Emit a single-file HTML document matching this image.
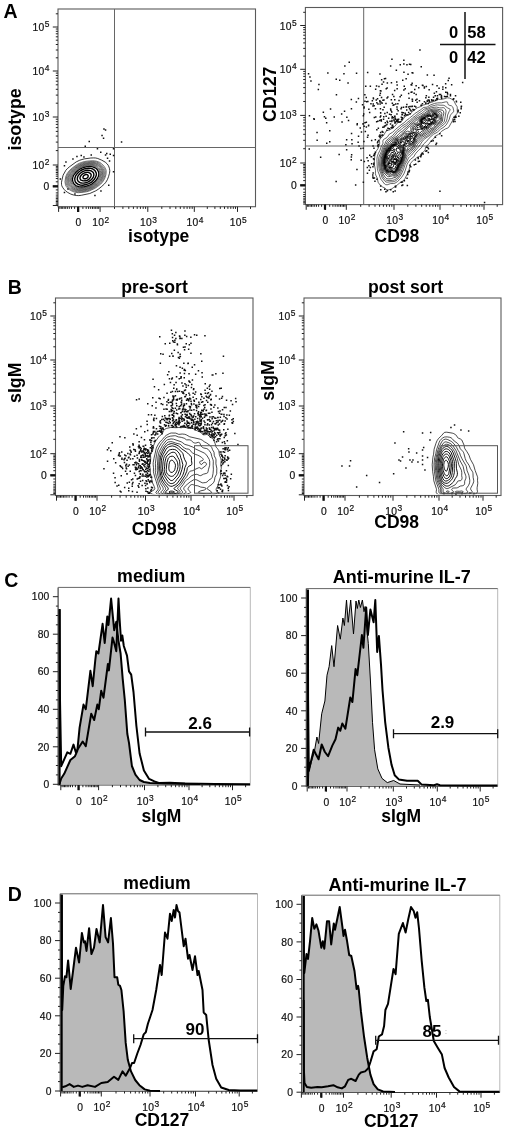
<!DOCTYPE html>
<html><head><meta charset="utf-8"><title>Figure</title>
<style>html,body{margin:0;padding:0;background:#fff}svg{display:block}</style></head>
<body>
<svg width="520" height="1135" viewBox="0 0 520 1135" font-family="'Liberation Sans', sans-serif">
<rect width="520" height="1135" fill="#fff"/>
<text x="3.5" y="17.9" font-size="19.5" font-weight="bold" text-anchor="start" fill="#000">A</text>
<text x="7.8" y="294.2" font-size="19.5" font-weight="bold" text-anchor="start" fill="#000">B</text>
<text x="4.3" y="586.5" font-size="19.5" font-weight="bold" text-anchor="start" fill="#000">C</text>
<text x="7.8" y="901" font-size="19.5" font-weight="bold" text-anchor="start" fill="#000">D</text>
<rect x="58" y="9" width="197.5" height="197.7" fill="none" stroke="#5a5a5a" stroke-width="1.1"/>
<path d="M78.6 206.7v5.2M100.1 206.7v5.2M147.8 206.7v5.2M194.3 206.7v5.2M237.5 206.7v5.2M114.5 206.7v2.2M122.9 206.7v2.2M128.8 206.7v2.2M133.4 206.7v2.2M137.2 206.7v2.2M140.4 206.7v2.2M143.2 206.7v2.2M145.6 206.7v2.2M161.8 206.7v2.2M170 206.7v2.2M175.8 206.7v2.2M180.3 206.7v2.2M184 206.7v2.2M187.1 206.7v2.2M189.8 206.7v2.2M192.2 206.7v2.2M207.3 206.7v2.2M214.9 206.7v2.2M220.3 206.7v2.2M224.5 206.7v2.2M227.9 206.7v2.2M230.8 206.7v2.2M233.3 206.7v2.2M235.5 206.7v2.2M250.5 206.7v2.2M82.9 206.7v2.2M74.6 206.7v2.2M86.2 206.7v2.2M71.5 206.7v2.2M88.6 206.7v2.2M69.3 206.7v2.2M90.7 206.7v2.2M67.4 206.7v2.2M92.5 206.7v2.2M65.7 206.7v2.2M94.1 206.7v2.2M64.2 206.7v2.2M95.7 206.7v2.2M62.7 206.7v2.2M97.2 206.7v2.2M61.3 206.7v2.2M98.7 206.7v2.2M59.9 206.7v2.2M58.6 206.7v5.2M58 186h-5.2M58 165h-5.2M58 117h-5.2M58 71h-5.2M58 27h-5.2M58 150.6h-2.2M58 142.1h-2.2M58 136.1h-2.2M58 131.4h-2.2M58 127.6h-2.2M58 124.4h-2.2M58 121.7h-2.2M58 119.2h-2.2M58 103.2h-2.2M58 95.1h-2.2M58 89.3h-2.2M58 84.8h-2.2M58 81.2h-2.2M58 78.1h-2.2M58 75.5h-2.2M58 73.1h-2.2M58 57.8h-2.2M58 50h-2.2M58 44.5h-2.2M58 40.2h-2.2M58 36.8h-2.2M58 33.8h-2.2M58 31.3h-2.2M58 29h-2.2M58 13.8h-2.2M58 181.8h-2.2M58 189.9h-2.2M58 178.5h-2.2M58 192.9h-2.2M58 176.2h-2.2M58 195.1h-2.2M58 174.2h-2.2M58 197h-2.2M58 172.5h-2.2M58 198.6h-2.2M58 170.8h-2.2M58 200.1h-2.2M58 169.3h-2.2M58 201.5h-2.2M58 167.8h-2.2M58 202.9h-2.2M58 166.4h-2.2M58 204.2h-2.2M58 205.5h-5.2" stroke="#222" stroke-width="1" fill="none"/>
<path d="M78.1 206.7v5.2M58 186.3h-5.2" stroke="#111" stroke-width="2.2" fill="none"/>
<text x="78.6" y="226.4" font-size="10.3" letter-spacing="0.25" text-anchor="middle" fill="#111" stroke="#111" stroke-width="0.2">0</text>
<text x="100.9" y="226.4" font-size="10.3" letter-spacing="0.25" text-anchor="middle" fill="#111" stroke="#111" stroke-width="0.2">10<tspan dy="-3.9" dx="0.3" font-size="8.4">2</tspan></text>
<text x="148.6" y="226.4" font-size="10.3" letter-spacing="0.25" text-anchor="middle" fill="#111" stroke="#111" stroke-width="0.2">10<tspan dy="-3.9" dx="0.3" font-size="8.4">3</tspan></text>
<text x="195.1" y="226.4" font-size="10.3" letter-spacing="0.25" text-anchor="middle" fill="#111" stroke="#111" stroke-width="0.2">10<tspan dy="-3.9" dx="0.3" font-size="8.4">4</tspan></text>
<text x="238.3" y="226.4" font-size="10.3" letter-spacing="0.25" text-anchor="middle" fill="#111" stroke="#111" stroke-width="0.2">10<tspan dy="-3.9" dx="0.3" font-size="8.4">5</tspan></text>
<text x="49.6" y="189.8" font-size="10.3" letter-spacing="0.25" text-anchor="end" fill="#111" stroke="#111" stroke-width="0.2">0</text>
<text x="49.6" y="169" font-size="10.3" letter-spacing="0.25" text-anchor="end" fill="#111" stroke="#111" stroke-width="0.2">10<tspan dy="-3.9" dx="0.3" font-size="8.4">2</tspan></text>
<text x="49.6" y="121" font-size="10.3" letter-spacing="0.25" text-anchor="end" fill="#111" stroke="#111" stroke-width="0.2">10<tspan dy="-3.9" dx="0.3" font-size="8.4">3</tspan></text>
<text x="49.6" y="75" font-size="10.3" letter-spacing="0.25" text-anchor="end" fill="#111" stroke="#111" stroke-width="0.2">10<tspan dy="-3.9" dx="0.3" font-size="8.4">4</tspan></text>
<text x="49.6" y="31" font-size="10.3" letter-spacing="0.25" text-anchor="end" fill="#111" stroke="#111" stroke-width="0.2">10<tspan dy="-3.9" dx="0.3" font-size="8.4">5</tspan></text>
<text x="158.7" y="241.6" font-size="17.5" font-weight="bold" text-anchor="middle" fill="#000">isotype</text>
<text x="21" y="119.4" font-size="17.8" font-weight="bold" text-anchor="middle" fill="#000" transform="rotate(-90 21 119.4)">isotype</text>
<path d="M114.5 9V206.7M58 147.5H255.5" stroke="#666" stroke-width="1" fill="none"/>
<path d="M85.8 178.8L84.2 178.8L83.3 178.2L83 177.8L83 176.8L83.6 175.8L84.8 174.9L86.2 174.5L87.2 174.6L88 175.2L88.2 175.8L88.1 176.8L87.2 178L85.8 178.8Z" fill="none" stroke="#000" stroke-width="1.40" stroke-linejoin="round"/>
<path d="M85.8 180.8L83.2 180.9L81.2 180.2L80.6 179.8L80.1 178.8L80 177.8L80.2 176.8L80.8 175.8L81.8 174.6L82.8 173.8L84.2 173L86.8 172.4L88.2 172.4L89.4 172.8L90.2 173.3L91 174.2L91.2 175.2L90.8 176.8L89.8 178.2L88.8 179.3L87.2 180.3L85.8 180.8Z" fill="none" stroke="#000" stroke-width="1.40" stroke-linejoin="round"/>
<path d="M85.8 182.8L83.8 183.1L81.8 183L80.2 182.7L78.8 181.9L77.8 180.8L77.3 179.2L77.4 177.8L77.9 176.2L78.9 174.8L80.3 173.2L81.8 172.1L83.8 171.1L85.8 170.5L87.8 170.3L89.8 170.5L91.2 170.9L92.8 172L93.6 173.2L93.9 174.8L93.4 176.8L92.2 178.8L90.2 180.7L88.2 181.9L85.8 182.8Z" fill="none" stroke="#000" stroke-width="1.40" stroke-linejoin="round"/>
<path d="M85.2 184.8L82.8 185.2L80.2 185L78.2 184.4L76.4 183.2L75.3 181.8L74.8 179.8L74.8 178.2L75.5 176.2L76.7 174.2L78.8 172L80.8 170.5L82.8 169.5L85.2 168.7L88.2 168.3L90.8 168.4L92.8 169L94 169.8L95.1 170.8L96.2 172.8L96.4 174.8L95.6 177.2L94 179.8L91.2 182.4L88.8 183.7L85.2 184.8Z" fill="none" stroke="#000" stroke-width="1.40" stroke-linejoin="round"/>
<path d="M84.2 186.8L81.2 187L78.8 186.7L76.2 185.8L74.2 184.2L73 182.2L72.5 179.8L72.8 177.2L73.7 175.2L75.5 172.8L78.2 170.2L80.4 168.8L83.2 167.5L86.8 166.7L90.2 166.4L92.8 166.8L95.1 167.8L96.5 168.8L97.4 169.8L98 170.8L98.6 172.2L98.8 173.8L98.7 175.2L98.2 176.8L97.5 178.2L96.5 179.8L95.2 181.2L91.8 184.1L88.8 185.5L84.2 186.8Z" fill="none" stroke="#000" stroke-width="1.30" stroke-linejoin="round"/>
<path d="M83.2 187.8L80.2 187.8L77.2 187.2L74.8 186.1L72.8 184.2L71.7 182.2L71.4 179.8L71.7 177.2L72.8 174.8L74.8 172.2L77.8 169.5L80.2 167.9L83.2 166.7L86.8 165.9L90.2 165.6L93.8 166.1L96.2 167.1L97.6 168.2L98.5 169.2L99.3 170.8L99.8 172.2L99.9 173.8L99.8 175.2L99.2 177.2L98.4 178.8L97.3 180.2L95.9 181.8L92.1 184.8L90.2 185.7L87.2 186.8L83.2 187.8Z" fill="none" stroke="#383838" stroke-width="0.70" stroke-linejoin="round"/>
<path d="M83.8 188.3L80.2 188.5L77.2 187.9L74.2 186.6L72.2 184.9L71 182.8L70.6 180.2L70.9 177.2L72 174.8L73.9 172.2L77.2 169.2L79.8 167.5L83.2 166.1L87.2 165.2L90.8 165L94.2 165.5L96.8 166.5L98.2 167.7L99.2 169L100.2 170.8L100.7 172.2L100.7 173.8L100.6 175.2L100 177.2L99.2 178.8L98.2 180.2L96.8 181.8L92.8 185L90.8 186.1L88.2 187.1L85.8 187.9L83.8 188.3Z" fill="none" stroke="#383838" stroke-width="0.70" stroke-linejoin="round"/>
<path d="M84.8 188.8L80.8 189.1L77.8 188.8L75.8 188.2L74.2 187.6L71.8 185.8L70.4 183.8L69.7 181.2L69.9 177.8L70.8 175.2L72.9 172.2L76.1 169.2L78.8 167.4L81.8 166L85.8 164.8L89.8 164.3L93.8 164.6L96.8 165.6L98.2 166.6L99.8 168.2L101 170.2L101.5 171.8L101.6 173.2L101.4 175.2L100.8 177.2L100.1 178.8L99.2 180.2L97.9 181.8L93.2 185.4L91.2 186.5L88.8 187.6L84.8 188.8Z" fill="none" stroke="#383838" stroke-width="0.70" stroke-linejoin="round"/>
<path d="M81.8 189.8L78.2 189.7L75.2 188.9L72.2 187.3L70.1 185.2L69.5 184.2L68.9 182.8L68.7 179.8L69 177.8L69.4 176.2L70.7 173.8L73.2 170.9L77.2 167.5L79.8 166.1L83.8 164.6L87.8 163.8L91.8 163.6L95.8 164.3L98.2 165.4L99.8 166.8L101.2 168.8L102.2 170.8L102.5 172.2L102.5 174.2L102.1 176.2L101.3 178.2L100.2 180.2L98.9 181.8L97.3 183.2L94.2 185.6L92.2 186.8L86.8 189L84.8 189.4L81.8 189.8Z" fill="none" stroke="#383838" stroke-width="0.70" stroke-linejoin="round"/>
<path d="M82.8 190.3L78.8 190.4L75.2 189.7L73.2 188.8L71.8 187.9L69.4 185.8L68.3 183.8L68 182.2L67.9 180.8L68.3 177.2L69.6 174.2L71.9 171.2L75.8 167.9L78.8 166L82.2 164.5L86.2 163.5L90.8 163L95.2 163.4L96.8 163.9L98.2 164.6L99.8 165.8L101.1 167.2L102.4 169.2L103.2 171.2L103.3 173.2L103.1 175.2L102.5 177.2L101.3 179.8L100.2 181.2L98.8 182.8L95.2 185.6L93.2 186.9L90.8 188.1L87.2 189.4L82.8 190.3Z" fill="none" stroke="#383838" stroke-width="0.70" stroke-linejoin="round"/>
<path d="M83.8 190.8L79.2 191.1L75.8 190.7L72.2 189.2L70.7 188.2L69.2 187L67.7 184.8L67.2 183.2L67 181.8L67.3 177.8L68.4 174.8L69.3 173.2L70.8 171.4L74.2 168.3L78.2 165.5L81.8 164L85.8 162.9L90.8 162.3L95.2 162.6L98.2 163.6L99.9 164.8L101.4 166.2L103.1 168.8L104 170.8L104.3 172.8L104 174.8L103.5 176.8L102.4 179.2L101.2 181.2L99.8 182.8L97.8 184.5L94.2 187L92.2 188.1L88.2 189.8L86.2 190.4L83.8 190.8Z" fill="none" stroke="#383838" stroke-width="0.70" stroke-linejoin="round"/>
<path d="M81.2 191.8L77.2 191.8L73.8 190.9L71.8 190L69.8 188.8L68.2 187.4L67.3 186.2L66.3 183.8L66 182.2L66.1 180.2L66.6 176.8L67.4 174.8L68.3 173.2L70.8 170.2L75.2 166.6L78.8 164.4L82.8 162.8L87.8 161.8L92.8 161.5L94.8 161.7L96.8 162.1L99.8 163.5L101.3 164.8L103.4 167.2L104.6 169.2L105.2 171.2L105.2 173.2L104.8 175.8L103.9 178.2L102.5 180.8L101.4 182.2L99.8 183.9L96.2 186.6L93.8 188.1L89.8 190L87.8 190.7L84.8 191.4L81.2 191.8Z" fill="none" stroke="#383838" stroke-width="0.70" stroke-linejoin="round"/>
<path d="M83.2 192.3L78.2 192.7L74.8 192.2L72.8 191.5L70.2 190.2L68.7 189.2L67.2 187.8L66.1 186.2L65.5 184.8L65 181.8L65.6 177.2L66.1 175.8L67 173.8L69.2 170.8L72.2 168L77.2 164.4L79.2 163.3L81.8 162.3L84.2 161.6L87.2 161.1L92.8 160.7L96.2 161.1L99.8 162.4L101.8 163.9L104 166.2L105.3 168.2L106.1 170.2L106.2 172.2L105.9 174.8L105 177.8L103.8 180.2L102.4 182.2L100.8 184L97.8 186.4L94.8 188.4L88.8 191.2L86.8 191.7L83.2 192.3Z" fill="none" stroke="#383838" stroke-width="0.70" stroke-linejoin="round"/>
<path d="M81.2 195.3L78.8 195.6L76.2 195.5L73.2 194.9L70.8 194.1L67.8 192.5L65.9 191.2L63.9 189.2L62.5 187.2L61.8 185.8L61.5 184.2L61.5 182.2L62 179.8L63.1 175.2L65.9 170.2L67.2 168.8L69.2 167L76.2 161.9L79.8 160.2L84.2 158.9L90.8 158L93.8 157.9L95.8 158L97.8 158.5L101.8 160.2L105.2 162.1L107.1 163.8L108.5 165.8L109.4 168.2L109.8 170.8L109.5 173.2L108.5 176.8L107.3 179.8L105.9 182.2L104.2 184.2L101.2 186.9L98.2 189.3L95.8 190.8L89.8 193.5L81.2 195.3Z" fill="none" stroke="#222" stroke-width="0.90" stroke-linejoin="round"/>
<path d="M72.2 158.2h1.5v1.5h-1.5zM63.7 164.9h1.5v1.5h-1.5zM59.6 178.3h1.5v1.5h-1.5zM63.7 191.8h1.5v1.5h-1.5zM80.5 154.8h1.5v1.5h-1.5zM83.2 156.2h1.5v1.5h-1.5zM90.5 154.2h1.5v1.5h-1.5zM84.5 145.4h1.5v1.5h-1.5zM88.5 140.7h1.5v1.5h-1.5zM96.7 148.1h1.5v1.5h-1.5zM100 151.4h1.5v1.5h-1.5zM101.3 134.7h1.5v1.5h-1.5zM102.8 137.6h1.5v1.5h-1.5zM104.8 154.2h1.5v1.5h-1.5zM106 152.8h1.5v1.5h-1.5zM109.5 153.4h1.5v1.5h-1.5zM106.8 157.6h1.5v1.5h-1.5zM108.8 160.2h1.5v1.5h-1.5zM112.8 154.8h1.5v1.5h-1.5zM112.8 148.1h1.5v1.5h-1.5zM112.8 170.9h1.5v1.5h-1.5zM108 184.4h1.5v1.5h-1.5zM120.8 141.3h1.5v1.5h-1.5zM104.8 129.2h1.5v1.5h-1.5zM103.2 128.2h1.5v1.5h-1.5zM67.2 188.2h1.5v1.5h-1.5zM74.2 193.2h1.5v1.5h-1.5zM94.2 194.8h1.5v1.5h-1.5zM100.2 190.2h1.5v1.5h-1.5zM65.2 161.2h1.5v1.5h-1.5zM76.2 155.8h1.5v1.5h-1.5z" fill="#111"/>
<rect x="305.4" y="7.5" width="197.2" height="197.1" fill="none" stroke="#5a5a5a" stroke-width="1.1"/>
<path d="M325.5 204.6v5.2M346.3 204.6v5.2M394 204.6v5.2M440 204.6v5.2M484 204.6v5.2M360.7 204.6v2.2M369.1 204.6v2.2M375 204.6v2.2M379.6 204.6v2.2M383.4 204.6v2.2M386.6 204.6v2.2M389.4 204.6v2.2M391.8 204.6v2.2M407.8 204.6v2.2M415.9 204.6v2.2M421.7 204.6v2.2M426.2 204.6v2.2M429.8 204.6v2.2M432.9 204.6v2.2M435.5 204.6v2.2M437.9 204.6v2.2M453.2 204.6v2.2M461 204.6v2.2M466.5 204.6v2.2M470.8 204.6v2.2M474.2 204.6v2.2M477.2 204.6v2.2M479.7 204.6v2.2M482 204.6v2.2M497.2 204.6v2.2M329.7 204.6v2.2M321.6 204.6v2.2M332.9 204.6v2.2M318.6 204.6v2.2M335.2 204.6v2.2M316.5 204.6v2.2M337.2 204.6v2.2M314.7 204.6v2.2M338.9 204.6v2.2M313 204.6v2.2M340.5 204.6v2.2M311.5 204.6v2.2M342.1 204.6v2.2M310.1 204.6v2.2M343.5 204.6v2.2M308.7 204.6v2.2M344.9 204.6v2.2M307.4 204.6v2.2M306.2 204.6v5.2M305.4 185h-5.2M305.4 163h-5.2M305.4 115.4h-5.2M305.4 69.3h-5.2M305.4 25.5h-5.2M305.4 148.7h-2.2M305.4 140.3h-2.2M305.4 134.3h-2.2M305.4 129.7h-2.2M305.4 126h-2.2M305.4 122.8h-2.2M305.4 120h-2.2M305.4 117.6h-2.2M305.4 101.5h-2.2M305.4 93.4h-2.2M305.4 87.6h-2.2M305.4 83.2h-2.2M305.4 79.5h-2.2M305.4 76.4h-2.2M305.4 73.8h-2.2M305.4 71.4h-2.2M305.4 56.1h-2.2M305.4 48.4h-2.2M305.4 42.9h-2.2M305.4 38.7h-2.2M305.4 35.2h-2.2M305.4 32.3h-2.2M305.4 29.7h-2.2M305.4 27.5h-2.2M305.4 12.3h-2.2M305.4 180.6h-2.2M305.4 189.1h-2.2M305.4 177.2h-2.2M305.4 192.3h-2.2M305.4 174.7h-2.2M305.4 194.6h-2.2M305.4 172.7h-2.2M305.4 196.5h-2.2M305.4 170.8h-2.2M305.4 198.2h-2.2M305.4 169.1h-2.2M305.4 199.8h-2.2M305.4 167.5h-2.2M305.4 201.3h-2.2M305.4 165.9h-2.2M305.4 202.7h-2.2M305.4 164.5h-2.2M305.4 204.1h-2.2" stroke="#222" stroke-width="1" fill="none"/>
<path d="M325 204.6v5.2M305.4 185.3h-5.2" stroke="#111" stroke-width="2.2" fill="none"/>
<text x="325.5" y="224.3" font-size="10.3" letter-spacing="0.25" text-anchor="middle" fill="#111" stroke="#111" stroke-width="0.2">0</text>
<text x="347.1" y="224.3" font-size="10.3" letter-spacing="0.25" text-anchor="middle" fill="#111" stroke="#111" stroke-width="0.2">10<tspan dy="-3.9" dx="0.3" font-size="8.4">2</tspan></text>
<text x="394.8" y="224.3" font-size="10.3" letter-spacing="0.25" text-anchor="middle" fill="#111" stroke="#111" stroke-width="0.2">10<tspan dy="-3.9" dx="0.3" font-size="8.4">3</tspan></text>
<text x="440.8" y="224.3" font-size="10.3" letter-spacing="0.25" text-anchor="middle" fill="#111" stroke="#111" stroke-width="0.2">10<tspan dy="-3.9" dx="0.3" font-size="8.4">4</tspan></text>
<text x="484.8" y="224.3" font-size="10.3" letter-spacing="0.25" text-anchor="middle" fill="#111" stroke="#111" stroke-width="0.2">10<tspan dy="-3.9" dx="0.3" font-size="8.4">5</tspan></text>
<text x="297" y="188.8" font-size="10.3" letter-spacing="0.25" text-anchor="end" fill="#111" stroke="#111" stroke-width="0.2">0</text>
<text x="297" y="167" font-size="10.3" letter-spacing="0.25" text-anchor="end" fill="#111" stroke="#111" stroke-width="0.2">10<tspan dy="-3.9" dx="0.3" font-size="8.4">2</tspan></text>
<text x="297" y="119.4" font-size="10.3" letter-spacing="0.25" text-anchor="end" fill="#111" stroke="#111" stroke-width="0.2">10<tspan dy="-3.9" dx="0.3" font-size="8.4">3</tspan></text>
<text x="297" y="73.3" font-size="10.3" letter-spacing="0.25" text-anchor="end" fill="#111" stroke="#111" stroke-width="0.2">10<tspan dy="-3.9" dx="0.3" font-size="8.4">4</tspan></text>
<text x="297" y="29.5" font-size="10.3" letter-spacing="0.25" text-anchor="end" fill="#111" stroke="#111" stroke-width="0.2">10<tspan dy="-3.9" dx="0.3" font-size="8.4">5</tspan></text>
<text x="396.9" y="241.9" font-size="17.5" font-weight="bold" text-anchor="middle" fill="#000">CD98</text>
<text x="275.8" y="94.2" font-size="17.8" font-weight="bold" text-anchor="middle" fill="#000" transform="rotate(-90 275.8 94.2)">CD127</text>
<path d="M363.7 7.5V204.6M305.4 146H502.6" stroke="#666" stroke-width="1" fill="none"/>
<path d="M395.6 162.3L395.1 162.4L394.6 162.2L393.6 161.2L393.2 160.8L393.2 160.2L393.7 159.8L395.1 159.4L395.9 159.8L396.3 160.8L396 161.8L395.6 162.3Z" fill="none" stroke="#000" stroke-width="1.00" stroke-linejoin="round"/>
<path d="M395.6 162.6L395.1 162.7L394.6 162.5L393.1 161.4L392.1 161.3L391.1 161.5L391 161.2L391.6 158.2L392.6 155.5L393.1 155.1L393.6 155.5L393.7 156.2L392.5 157.8L392 158.8L392.6 159.2L395.1 159.1L396.1 159.5L396.5 160.2L396.5 160.8L396.3 161.8L395.6 162.6Z" fill="none" stroke="#000" stroke-width="1.00" stroke-linejoin="round"/>
<path d="M390.1 163.9L389.6 164L389.4 162.8L390.3 160.8L390.3 159.2L389.8 158.2L388.9 157.2L389 156.8L389.6 156.7L390.6 157.1L391.1 157L391.8 156.2L392.4 154.8L392.6 154.5L393.1 154.5L393.6 154.8L394.3 155.8L394.2 156.2L393.5 157.8L393.6 158.2L394.1 158.6L395.6 158.8L396.4 159.2L396.8 160.2L396.7 161.2L396.3 162.2L395.6 162.9L394.6 162.8L393.1 161.8L392.1 161.8L391.1 162.4L390.1 163.9Z" fill="none" stroke="#000" stroke-width="1.00" stroke-linejoin="round"/>
<path d="M391.1 165.9L390.6 166L389.6 166L388.9 165.8L388.6 165.2L388.4 162.8L389.3 160.2L389 159.2L387.9 157.8L387.6 156.8L387.6 156.2L388.1 155.4L388.6 155.2L390.7 155.2L390.9 154.8L391 152.8L391.6 152.3L393.1 152.6L394 153.2L395.4 155.8L395.4 157.2L395.7 157.8L397.1 158.8L397.5 159.2L397.6 160.2L397 162.2L396.1 163.4L395.1 163.6L393.1 162.6L392.1 162.8L391.4 163.8L391.4 165.2L391.1 165.9Z" fill="none" stroke="#000" stroke-width="1.00" stroke-linejoin="round"/>
<path d="M399.1 152.4L397.6 152L396.5 151.2L396.3 150.8L396.3 149.2L396.6 148.1L397.1 148L398.1 148.2L399.1 148.7L399.8 149.2L400.2 150.2L400.3 151.2L400.1 151.8L399.6 152.2L399.1 152.4ZM392.1 167.3L388.1 166.9L387.9 166.8L387.4 165.8L387 162.2L387.1 161.2L387.8 160.2L387.8 159.8L386.8 157.2L386.9 155.2L387.5 154.2L388.7 153.2L390.1 150.9L391.1 150.2L392.1 150.4L394.9 151.8L395.3 152.2L395.6 153.8L396.7 155.2L397 157.2L398.6 158.6L398.9 159.2L398.4 161.8L396.6 164.1L396.1 164.4L395.1 164.6L393.6 163.8L393 163.8L392.8 164.2L393.5 165.2L393.7 166.2L393.1 167L392.1 167.3Z" fill="none" stroke="#000" stroke-width="1.00" stroke-linejoin="round"/>
<path d="M425.1 122.3L424.1 122.7L423.4 122.2L422.7 121.2L422.6 120.8L422.9 120.2L423.6 119.8L424.6 120L425.4 121.2L425.4 121.8L425.1 122.3ZM394.1 169.4L392.5 168.2L390.1 167.6L389.1 167.6L387.6 168.5L387.2 168.2L386.5 165.8L385.7 163.8L385.6 163.2L386.4 159.2L386.2 156.2L386.3 155.2L386.6 154.2L390.1 149.8L391.1 149.1L392.6 148.5L392.9 148.2L393.5 146.8L393.9 146.2L394.6 145.9L395.6 145.8L396.6 146L398.2 147.2L400.1 148.2L400.6 148.7L401 149.8L401.1 151.2L400.6 152.9L399.1 154.2L397.7 156.2L397.8 156.8L398.1 157.2L399.3 157.8L400 158.8L400.1 159.8L399.5 161.8L398.9 162.8L396.1 165.8L394.6 169.1L394.1 169.4ZM394.8 150.2L395 149.8L394.6 149.1L394.1 149L393.4 149.2L393.4 149.8L394 150.2L394.8 150.2ZM397.7 153.8L397.7 153.2L396.9 153.2L397.1 153.7L397.7 153.8Z" fill="none" stroke="#000" stroke-width="1.00" stroke-linejoin="round"/>
<path d="M432.1 120.3L431.6 119.9L431.3 118.8L431.6 118.4L432.1 118.7L432.6 119.3L432.6 120L432.1 120.3ZM424.6 123.8L424.1 123.9L423.1 123.3L422 121.2L421.9 120.2L422.1 119.8L423.1 119.1L424.1 118.9L425.1 119L425.6 119.4L426.6 120.8L427.1 121.1L429.1 120.9L430.9 121.2L431 121.8L430.9 122.2L430.1 123.2L429.6 123.5L428.6 123.4L427.1 122.8L424.6 123.8ZM422.6 126.8L422.1 127L421.5 126.8L421.4 126.2L421.6 125.7L422.1 125.5L422.6 125.5L423 125.8L423 126.2L422.6 126.8ZM409.1 140.5L408.1 140.5L407 139.8L406.7 138.8L407 138.2L408.1 137.9L409.1 138.2L409.6 139L409.8 139.8L409.5 140.2L409.1 140.5ZM394.1 171.3L393.6 171.3L393.1 171L391.9 169.2L390.4 168.2L389.6 168.2L388.6 169.7L388.1 169.9L387.1 169.6L386.3 168.8L385.8 166.2L384.7 163.8L385.1 161.2L385.6 155.8L386.2 153.8L388.9 149.8L392.1 147.4L392.8 146.2L393.4 145.8L397.6 144.4L398.1 144.8L398.8 146.2L399.1 146.6L401.1 147.5L402 148.2L402.2 148.8L402.2 149.8L401.5 153.8L399.8 156.2L400.7 157.8L401 158.8L401 159.8L400.1 162.2L398 164.8L395.4 170.2L394.6 171.1L394.1 171.3Z" fill="none" stroke="#000" stroke-width="1.00" stroke-linejoin="round"/>
<path d="M435.6 117L434.6 117L434 116.8L433.7 116.2L433.8 115.8L434.4 114.8L435.1 114.7L435.9 115.2L436.2 116.2L436 116.8L435.6 117ZM422.6 127.8L421.4 127.8L420.8 127.2L420.5 126.8L420.5 126.2L420.9 125.2L422.3 123.8L422.2 122.8L421.5 120.8L421.7 119.8L422.1 119.2L423.6 118.5L425.6 118.4L426.3 118.8L427 119.8L427.6 120.1L429.6 120.4L430.4 120.2L430.7 119.8L430.1 118.8L429.1 118.4L427.5 118.2L427 117.8L427 117.2L427.5 116.8L429.1 116.1L430.1 116.3L432.6 118L433.6 119.8L433.5 120.8L433.1 121.2L432.1 121.7L430.6 123.5L429.6 124L428.6 124L427.1 123.6L426.6 123.8L426 124.2L425.5 125.8L422.6 127.8ZM414.6 134.9L414.4 134.8L414.3 134.2L414.6 134.1L415.1 134.2L415 134.8L414.6 134.9ZM409.1 141.3L407.6 140.9L406.6 140.2L406.1 139.8L405.9 138.8L406.1 138L406.6 137.5L408.1 137.1L409.6 136.2L409.9 137.8L410.5 139.2L410.6 140.2L410.1 140.9L409.1 141.3ZM402.1 145.4L401.6 145.6L401.1 145.5L400.7 144.8L400.7 143.8L401.6 142L402.1 141.7L403.1 141.7L404.1 142.2L404.5 143.2L403.8 144.2L402.1 145.4ZM394.1 171.8L393.1 171.6L391.6 170.1L390.6 169.4L390.1 169.3L389.6 170.2L388.6 170.7L387.1 170.4L386.1 169.5L385.8 168.8L385.3 166.2L384.5 164.8L384.3 163.8L384.7 160.8L384.7 158.8L385.6 154.2L388.2 149.8L391.5 147.2L392.7 145.8L395.6 144.6L397.1 143.3L397.6 143.1L398.1 143.3L399.1 144.2L399.9 145.8L401.1 146.3L402.6 147.8L403.1 148.8L403.1 149.4L402.5 151.8L402 156.2L401.5 157.8L401.5 159.8L401.1 161.2L400.3 162.8L398.6 164.8L395.7 170.8L395.1 171.3L394.1 171.8Z" fill="none" stroke="#000" stroke-width="1.00" stroke-linejoin="round"/>
<path d="M423.1 128.3L422.1 128.6L421.1 128.3L420.3 127.8L419.8 127.2L419.7 126.8L419.9 125.8L421.7 123.2L421.1 120.2L421.6 119.2L422.6 118.5L425.5 117.8L427.1 116.3L428.1 115.8L429.6 115.7L431.6 116.6L432.6 116.8L433.1 116L433.6 114.5L434.1 114L435.1 114.1L436.1 114.7L436.5 115.2L436.7 116.2L436.7 116.8L436.3 117.2L435.6 117.5L433.6 117.8L433.6 118.2L434.5 120.8L434.3 121.8L432.1 122.6L430.1 124.3L427.5 124.8L427.5 125.8L427.1 126.4L425.1 126.9L423.1 128.3ZM429.8 119.8L429.6 119.2L429.1 119L428.5 119.2L428.8 119.8L429.8 119.8ZM417.6 127.8L417.4 127.2L417.6 127.1L418.1 127.2L418 127.8L417.6 127.8ZM414.1 136.3L412 134.2L412.5 133.8L413.6 133.2L414.6 133L415.6 133.2L416.1 133.8L416.1 134.8L415.4 135.8L414.1 136.3ZM395.1 171.8L394.6 172.1L393.6 172.2L392.7 171.8L391.1 170.6L390.6 170.6L389.1 171.3L388.1 171.3L386.8 170.8L385.6 169.6L385.3 168.8L385.1 166.8L384.2 164.8L383.9 163.2L384.2 161.2L384.3 158.8L385.4 154.2L388 149.2L390.2 147.8L391.9 145.8L395.5 144.2L396 143.8L396.6 142.2L397.1 141.7L397.6 141.7L399.1 143.2L399.6 143.4L399.9 143.2L400.1 143.1L401.5 140.8L402.1 140.1L403.1 139.7L404.6 139.8L406.1 137L408.1 136.2L409.6 134.8L410.8 134.8L410.6 137.2L410.7 137.8L411.1 138.6L411.6 138.6L413.1 137.5L413.5 137.8L413.6 138.8L413.1 140.5L412.6 141.1L409.6 142.4L408.6 142.1L406.1 140.7L405.6 140.5L405.1 140.7L405.4 142.8L405.3 143.8L405 144.2L403 145.8L402.7 146.2L402.8 146.8L403.6 148.2L403.7 149.2L402.9 151.8L402.7 155.8L401.9 158.2L401.6 160.8L400.6 162.7L398.7 165.2L396.5 170.2L395.1 171.8Z" fill="none" stroke="#000" stroke-width="1.00" stroke-linejoin="round"/>
<path d="M422.6 129.4L420.1 129L419.1 129.5L416.1 129L415.1 129.6L414.6 129.2L414.8 128.8L415.6 127.8L416.3 126.2L417 125.8L419.1 125.1L420.9 123.2L421.1 122.2L420.7 120.8L420.8 119.8L421.1 119.2L422.1 118.4L425.1 117.3L426.6 116L428.6 115.1L429.6 115.2L431.6 116L432.1 116.1L432.6 115.7L433.1 113.8L433.6 113.3L435.1 113.6L436.4 114.2L437 115.2L437.2 116.8L436.6 117.7L434.9 118.2L434.5 118.8L435.3 120.8L435.3 121.8L435.1 122.2L434.5 122.8L432.1 123.2L430.6 124.6L429.1 125.2L428.6 125.7L427.6 127.3L427.1 127.5L425.1 127.7L423.6 128.9L422.6 129.4ZM394.6 172.5L393.6 172.6L391.1 171.3L389.1 171.9L387.6 171.8L386 170.8L385.1 169.8L384.9 169.2L384.7 166.8L383.8 164.8L383.6 163.8L383.9 158.8L385.1 154.2L386.4 151.8L387.1 149.7L387.9 148.8L389.7 147.8L391.1 145.7L391.9 145.2L394.7 144.2L395.2 143.8L395.8 141.8L396.6 140.8L397.1 140.6L398 140.8L399.1 141.9L399.6 142.1L400.1 141.6L400.9 140.2L401.6 139.4L402.6 138.8L404.1 138.6L404.6 138.3L405.6 136.5L406.1 136L407.6 135.7L409.1 134.4L411.1 133.7L413.1 132.6L414.6 132.3L415.6 132.3L416.8 133.2L416.9 133.8L416.8 134.8L416.3 135.8L414.6 137.2L414 140.8L413.4 141.8L411.6 143.3L410.1 143.9L408.6 143.8L407.1 142.7L406.9 142.8L406.6 143L406 144.8L405.4 145.2L404.1 145.8L403.7 146.2L403.7 146.8L404.3 149.2L403.4 151.8L403.1 155.8L402.3 158.2L401.7 161.2L401 162.8L399.2 165.2L397 170.2L396.1 171.4L394.6 172.5ZM412.4 136.8L412.6 136.2L412.2 135.8L411.6 135.9L411.5 136.2L411.6 137L412.4 136.8Z" fill="none" stroke="#000" stroke-width="1.00" stroke-linejoin="round"/>
<path d="M395.1 172.9L394.1 173.2L391.6 172.1L391.1 172L389.6 172.7L388.1 172.6L386.1 171.6L384.4 169.8L384.2 166.8L383.4 164.8L383.2 163.8L383.5 158.8L384.8 154.2L386 151.8L387.1 148.8L387.6 148.2L389.5 147.2L390.9 145.2L393.6 144.2L394.2 143.8L394.6 141.9L396.2 140.2L397.1 139.8L399.1 140.3L399.6 140.2L402.1 138.1L404.1 137.2L405 135.2L405.6 134.8L407.6 134.7L409.1 133.8L411.1 133.1L412.8 131.8L413.3 131.2L413.4 130.8L413.4 128.2L414.6 126L415.6 125.2L418.6 124.4L419.6 123.7L420.3 122.8L420.5 122.2L420.2 120.8L420.3 119.8L420.6 119.2L421.6 118.3L422.6 117.7L424.6 117L426.6 115.5L428.6 114.5L429.6 114.5L431.6 115.2L432.2 114.8L432.3 113.2L433.1 112.6L434.1 112.6L436.6 113.6L437.5 114.8L437.9 116.2L437.9 117.2L437.6 117.8L436.3 118.8L435.9 119.2L436.1 121.8L435.6 122.8L434.6 123.4L432.6 123.7L432.1 123.9L430.6 125.5L429.4 126.2L428.3 127.8L427.6 128.2L425.3 128.8L423.6 130.4L421.1 131.6L420.1 133L418.1 133.5L417 135.8L415.1 137.7L414.5 141.2L412.6 143.5L412.1 144L411.1 144.5L408.1 145.1L406.6 146.6L405.1 146.8L404.9 147.2L404.9 147.8L405.4 149.2L403.9 151.8L403.6 155.2L401.9 161.8L401.4 162.8L399.6 165.2L397.6 170.2L396.9 171.2L395.1 172.9ZM418.3 132.2L418.5 131.2L418.1 130.6L417.6 130.2L417.1 130L416.5 130.2L416.1 130.8L416.1 131.2L416.4 131.8L417.6 132.5L418.1 132.5L418.3 132.2Z" fill="none" stroke="#000" stroke-width="0.80" stroke-linejoin="round"/>
<path d="M395.1 173.9L394.6 174.2L394.1 174.2L392.6 173.2L391.6 172.8L391.1 173L390.1 173.9L389.6 174.1L388.6 173.9L385.1 171.5L384.1 170.5L383.7 169.8L383.6 167.2L382.8 163.8L383.1 159.2L384.4 154.2L385.6 151.7L386.6 148.6L387.1 148L389.1 146.8L390.1 145.3L390.6 144.8L393.1 143.8L393.8 141.8L395.9 139.8L397.1 139.2L399.1 139.3L400.1 138.9L401.2 137.8L402.2 136.2L404.6 133.8L405.6 133.4L407.6 133.4L410.3 132.8L411.2 132.2L411.9 130.8L412.5 127.2L413.3 125.8L414.6 124.6L418.1 123.8L419 123.2L419.5 122.2L419.4 120.8L419.7 119.8L420.4 118.8L421.6 117.8L422.6 117.2L424.6 116.3L428.1 113.9L430.6 113.5L431.4 112.8L432.6 112.1L434.1 111.9L437.1 112.8L438.2 113.8L438.7 114.8L439.3 119.2L439.1 119.9L438.6 120.3L437.6 120.4L436.6 122.8L435.6 123.7L432.6 124.6L432.1 125.2L431.6 126.2L431.1 126.7L429.6 127.4L428.1 129L426 129.8L424.6 131L422.6 132.5L421.1 134.1L418.6 134.9L418.2 135.2L415.8 138.2L414.8 141.8L412.1 145.1L411.1 145.7L409.1 146.3L408.1 147.4L407.2 149.8L405.6 150.5L404.8 151.2L404.4 152.2L404.3 154.2L404 155.8L402.1 162.2L400.1 165.2L397.8 170.8L395.1 173.9Z" fill="none" stroke="#222" stroke-width="0.80" stroke-linejoin="round"/>
<path d="M395.6 174.8L395.1 175.2L394.6 175.2L392.1 174.5L390.1 175.2L388.6 175.1L384.6 172.1L383.5 170.8L383 169.8L382.8 167.2L382.3 164.8L382.5 159.8L382.9 157.8L384.1 153.8L385.3 151.2L386.2 148.2L387.1 147.2L388.6 146.2L390.1 144.4L392.2 143.2L392.8 141.8L393.6 140.8L396.1 138.9L399.6 137.6L402.2 134.8L404.6 132.6L407.6 131.1L409.6 131.6L410.1 131.5L410.5 131.2L410.7 130.8L411 129.2L410.7 127.2L411.3 126.2L413.6 124L415.1 123.3L417.3 122.8L417.7 122.2L418 120.8L419.1 119.2L422.1 116.8L425.1 115.2L428.1 113L430.8 111.8L434.1 111.1L437.1 111.4L437.8 111.8L439.5 113.2L440.1 114.2L440.2 117.2L440.7 119.2L440.2 120.8L436.6 123.9L434.6 125.2L433.9 126.8L433.1 127.6L432.1 128.1L430.1 128.7L428.6 130.2L426.6 131.1L421.9 134.8L418.9 136.2L417.6 138.2L416.3 139.8L415.5 141.8L413.6 144.2L412.6 146.8L411.6 147.5L409.6 148.3L409.1 148.7L407.6 150.6L405.5 151.8L405.1 152.3L404.8 154.8L402.5 162.2L400.7 165.2L400.2 166.8L399.1 168.7L398.5 170.8L396.4 173.2L395.6 174.8Z" fill="none" stroke="#222" stroke-width="0.80" stroke-linejoin="round"/>
<path d="M390.6 176.3L388.6 176.7L387.6 176.5L384.1 173.1L382.6 170.8L382.1 169.2L381.5 164.8L381.9 159.8L382.4 157.2L383.6 153.2L384.6 151.1L385.3 148.8L385.7 147.8L387.9 145.8L389.6 143.5L391.1 142.2L392.6 140.3L399.6 136L401.6 133.8L403.7 132.2L405.7 130.2L409.9 125.8L412.1 123.7L414.8 121.8L416.1 120.2L417.6 119.3L418.8 118.2L420.6 117.2L422.6 115.6L425.1 114.2L427.6 112.2L430.1 110.8L434.1 110.1L437.6 110.4L441.3 112.2L441.6 112.8L441.9 113.8L441.3 116.8L441.7 119.2L441.4 120.8L440.8 121.8L439.1 122.9L436 125.8L434.4 127.8L433.6 128.4L431.1 129.8L429.6 131L427.6 132.1L419.9 137.2L418.5 139.2L417.1 140.4L416.1 142.2L414.6 143.9L414.2 144.8L413.7 146.8L413.1 147.6L410.1 149.8L408.1 151.6L406.6 152.5L406.1 153.1L402.8 162.8L401.7 164.8L401 166.8L399.9 168.8L399 171.2L397.1 173.6L396.2 175.8L395.1 176.2L392.6 175.8L390.6 176.3Z" fill="none" stroke="#222" stroke-width="0.80" stroke-linejoin="round"/>
<path d="M390.1 178.8L388.6 178.9L387.1 178.7L386.1 178.2L385.2 177.2L383.6 174.8L381.7 170.8L381.3 169.2L380.7 165.2L381.2 159.2L381.7 156.8L382.8 153.2L384.8 147.8L387.4 144.8L388.7 142.2L392.1 139.3L396.9 136.2L398.6 134.2L400.6 132.3L402.6 131.2L404.3 129.2L406.6 127.4L409 124.8L412.6 121.8L415.1 119.2L418.1 117.3L420.1 116.4L422.1 114.8L424.6 113.2L426.6 111.5L429.6 109.9L433.6 108.9L437.1 109L440.1 109.8L442.1 110.1L443.1 110.6L443.7 111.8L443.8 113.8L442.9 116.8L442.5 121.2L441.9 122.2L438.6 124.6L435.8 127.8L434.1 129.2L426.1 134.8L422.2 137.2L421.1 138.2L419.4 140.2L417.8 141.8L415.6 144.3L414.5 147.2L413.6 148.6L410.4 151.2L406.6 154.8L405.6 156.9L403.8 162.2L402.6 164.8L401.7 167.2L400.6 169.2L399.8 171.8L398.2 174.2L397.1 176.2L396.6 176.8L395.6 177.4L393.6 177.8L391.6 178.6L390.1 178.8Z" fill="none" stroke="#222" stroke-width="0.80" stroke-linejoin="round"/>
<path d="M392.6 180.3L389.1 180.6L387.1 180.4L385.6 179.9L384.4 178.8L382.8 176.2L381.8 173.2L380.7 170.8L379.8 166.2L379.6 164.2L380 159.2L380.6 156.2L382.4 151.8L383.7 147.8L386.1 144.4L387.6 141.2L391.1 138.3L393.7 136.8L397.9 131.8L401 129.8L403.1 127.6L406.1 125.8L408.6 123.1L411.6 120.9L413.5 118.8L415.9 117.2L417.6 115.8L422.7 112.8L424.5 110.8L425.1 110.3L427.6 109.5L431.1 107.9L434.1 107.3L436.6 107.1L439.6 107.8L441.1 107.9L443.1 107.6L444.1 107.9L445.1 108.8L445.7 109.8L446.1 111.2L444.4 121.2L443.9 122.2L442.6 123.6L439.6 125.4L437.1 128.2L435.9 129.2L427.3 135.8L423.6 137.9L417.7 144.2L415.5 148.2L414.4 149.8L411.5 152.2L409.9 154.2L407.7 155.8L407.1 156.5L405.7 160.8L403.9 164.2L402.9 167.2L401.7 169.8L400.9 172.2L398.6 176.2L397.5 177.8L396.1 178.9L394.1 180L392.6 180.3Z" fill="none" stroke="#222" stroke-width="0.70" stroke-linejoin="round"/>
<path d="M393.1 181.8L391.1 181.8L387.1 182.2L386.1 182L385.1 181.4L382.8 178.8L381.9 177.2L380.7 173.2L379.4 170.2L379 168.2L378.6 163.8L378.7 161.2L378.7 158.8L378.9 157.2L379.8 154.8L381.5 151.2L382.5 147.8L383.3 146.2L385 143.8L385.6 141.8L386.1 140.8L390.1 137.3L392.4 135.8L396.6 130.8L399.3 128.8L401.9 126.2L405.6 124L408 121.8L410.4 120.2L412.6 117.8L415 116.2L418.1 113.5L421.6 111.3L423.2 109.8L424.1 109.1L427.6 108.3L431.1 106.4L435.6 105.1L437.6 104.9L440.1 105.2L443.1 105.2L444.1 105.4L445.1 106L447.6 107.9L450.1 109.2L450.2 109.8L450 110.2L449.1 111.6L447.6 115L447.2 118.2L446.5 120.8L445.8 122.2L445.1 123.2L443.6 124.8L440.1 127.1L437.1 130.2L433.1 132.7L430.1 135.2L424.8 138.8L423.6 139.8L422 141.8L420.1 144.7L417 148.8L413 153.2L411.5 155.2L409.5 156.8L408.5 157.8L407 161.2L405.2 164.2L403.7 168.8L402 172.8L400.7 175.2L399.4 177.2L397.8 179.2L396.6 180.2L394.6 181.4L393.1 181.8Z" fill="none" stroke="#222" stroke-width="0.70" stroke-linejoin="round"/>
<path d="M387.1 184.8L385.6 184.6L384.6 184L380.9 179.2L380 177.2L379.1 174.1L378.1 171.8L377.3 168.2L376.9 159.2L377.2 156.8L378.2 153.8L380 150.2L381.4 146.2L382.8 143.8L383 142.8L382.8 141.2L383 140.2L384.1 139.2L387.1 137.4L389.3 134.2L392.6 132.3L395.6 129.3L401.1 124.8L404.6 122.4L406.6 120.2L408.9 118.8L410.5 117.2L412.6 115.8L414.5 113.8L420.6 109.8L423.1 107.8L424.1 107.4L427.1 107.1L430.1 105.1L434.6 103.4L437.6 102.9L441.6 102.8L445.6 101.9L447.1 101.9L447.6 102.2L447.9 103.8L448.4 104.8L449.2 105.2L451.6 105.9L452.6 106.8L453.1 107.9L453.7 110.8L453.5 111.8L451.2 114.2L450.2 115.8L449.3 119.2L447.5 122.8L446.3 124.8L444.1 126.9L440.6 129.2L437.1 132.4L433.5 134.2L429.1 138.2L426.6 141.3L423.6 144L421.4 147.8L418.6 150.2L415.4 153.8L413.8 156.8L411.1 158.8L410.1 159.8L408.6 161.7L407.1 164.3L405.3 170.2L403.9 173.8L401.7 177.2L400 179.2L397.6 181.5L395.1 183.1L393.6 183.5L390.6 183.6L387.1 184.8Z" fill="none" stroke="#222" stroke-width="0.70" stroke-linejoin="round"/>
<path d="M388.6 189.8L387.1 189.8L386.1 189.5L385.1 188.2L382.1 186.7L379 183.8L378.1 182.2L377.3 178.2L375.8 175.2L375.4 173.8L375.5 170.2L374.4 164.8L374.4 160.2L374.8 155.8L376.1 151.3L377.9 148.8L379.5 144.2L379.7 143.2L379.5 140.8L379.7 139.8L380.1 138.9L383.3 135.8L386.1 131.1L387.1 130.6L389.6 129.9L393.6 127.4L394.6 126.5L397.6 122.8L398.1 122.4L400.1 122.3L401.1 121.8L401.7 121.2L405.1 116.5L406.1 115.9L410.2 114.2L412.6 111.4L417.3 107.8L420.6 106.6L423.6 105L426.6 104.2L429.1 103L431.6 102.3L435.6 100.8L438.1 99.3L440.1 99.4L444.1 98.8L446.6 98L447.6 97.8L449.6 98.1L451.8 99.2L453.2 100.2L454.1 101.2L455.5 104.2L457.2 106.8L457.3 107.8L457.2 109.8L457.4 112.2L456.9 113.8L455.1 115.6L453.1 118.1L452.4 120.8L448.8 127.2L448.1 127.9L445.6 128.8L441.7 131.2L438.6 134.3L435.2 136.2L433.6 139L431.1 140.7L429.1 143.9L425.7 146.8L425.4 147.8L425.2 149.8L424.7 150.8L421.6 153.5L420.1 155.9L419.1 156.7L416.6 157.8L413.5 160.2L411.1 162.5L410.6 163.3L410 164.8L409 170.2L407.9 172.2L407 174.8L405.8 176.8L404.9 178.8L404.2 179.8L402.6 181.1L399.9 182.8L397.1 185.1L391.8 188.8L390.6 189.3L388.6 189.8Z" fill="none" stroke="#222" stroke-width="0.70" stroke-linejoin="round"/>
<path d="M400.6 181.4h1.5v1.5h-1.5zM407 173.7h1.5v1.5h-1.5zM388.5 127.9h1.5v1.5h-1.5zM402 184.3h1.5v1.5h-1.5zM372.1 176.2h1.5v1.5h-1.5zM394.7 185.6h1.5v1.5h-1.5zM394.6 186.3h1.5v1.5h-1.5zM386.6 189.9h1.5v1.5h-1.5zM381.8 134.2h1.5v1.5h-1.5zM367.4 160h1.5v1.5h-1.5zM377.6 143.9h1.5v1.5h-1.5zM372.9 154.7h1.5v1.5h-1.5zM386.2 123.8h1.5v1.5h-1.5zM373.8 153.1h1.5v1.5h-1.5zM381.5 130.7h1.5v1.5h-1.5zM409.3 164.6h1.5v1.5h-1.5zM368.6 169.6h1.5v1.5h-1.5zM389.3 120.5h1.5v1.5h-1.5zM403.6 179.9h1.5v1.5h-1.5zM390 188.9h1.5v1.5h-1.5zM391.4 127h1.5v1.5h-1.5zM385 124.8h1.5v1.5h-1.5zM401.7 181.3h1.5v1.5h-1.5zM370.9 163.1h1.5v1.5h-1.5zM373.4 154.5h1.5v1.5h-1.5zM374.6 151.5h1.5v1.5h-1.5zM407 173.2h1.5v1.5h-1.5zM408.4 171h1.5v1.5h-1.5zM380 188.9h1.5v1.5h-1.5zM374.2 180.6h1.5v1.5h-1.5zM385.2 191.1h1.5v1.5h-1.5zM372 174.2h1.5v1.5h-1.5zM380 115.3h1.5v1.5h-1.5zM379.3 136.7h1.5v1.5h-1.5zM378.5 135.6h1.5v1.5h-1.5zM379.9 135.5h1.5v1.5h-1.5zM362.6 181.4h1.5v1.5h-1.5zM376.8 142.1h1.5v1.5h-1.5zM373.1 162.6h1.5v1.5h-1.5zM401.1 184.7h1.5v1.5h-1.5zM376.2 178.5h1.5v1.5h-1.5zM380.6 120.3h1.5v1.5h-1.5zM373 164.1h1.5v1.5h-1.5zM372.2 165.9h1.5v1.5h-1.5zM381.3 134.4h1.5v1.5h-1.5zM370.9 139.7h1.5v1.5h-1.5zM391.4 125.2h1.5v1.5h-1.5zM379.9 131.7h1.5v1.5h-1.5zM394.7 118.5h1.5v1.5h-1.5zM366.7 172.5h1.5v1.5h-1.5zM373.2 147.5h1.5v1.5h-1.5zM379.9 185.2h1.5v1.5h-1.5zM372.5 177.6h1.5v1.5h-1.5zM373.4 158.7h1.5v1.5h-1.5zM370.8 156h1.5v1.5h-1.5zM369.6 166.7h1.5v1.5h-1.5zM373.7 177.3h1.5v1.5h-1.5zM382.2 131.4h1.5v1.5h-1.5zM372.8 158.1h1.5v1.5h-1.5zM377.3 145.8h1.5v1.5h-1.5zM374.6 139.1h1.5v1.5h-1.5zM406.6 184.7h1.5v1.5h-1.5zM406.3 177.4h1.5v1.5h-1.5zM369 154.4h1.5v1.5h-1.5zM417.3 156.7h1.5v1.5h-1.5zM372.3 145.2h1.5v1.5h-1.5zM392.5 191h1.5v1.5h-1.5zM384 188.5h1.5v1.5h-1.5zM395 186.1h1.5v1.5h-1.5zM407.4 171.2h1.5v1.5h-1.5zM366.6 166.7h1.5v1.5h-1.5zM377.1 141h1.5v1.5h-1.5zM372.4 172.3h1.5v1.5h-1.5zM394.4 190.2h1.5v1.5h-1.5zM425 102.5h1.5v1.5h-1.5zM446.6 95.5h1.5v1.5h-1.5zM440.7 95h1.5v1.5h-1.5zM404.6 113.5h1.5v1.5h-1.5zM454.3 120.7h1.5v1.5h-1.5zM425.2 102.5h1.5v1.5h-1.5zM443.8 95.7h1.5v1.5h-1.5zM453.5 116.6h1.5v1.5h-1.5zM445.2 96h1.5v1.5h-1.5zM452.9 119.3h1.5v1.5h-1.5zM460 101.6h1.5v1.5h-1.5zM446.9 93.2h1.5v1.5h-1.5zM453 97.9h1.5v1.5h-1.5zM395.8 120.7h1.5v1.5h-1.5zM440.9 97.7h1.5v1.5h-1.5zM457.3 110.9h1.5v1.5h-1.5zM436.5 98.7h1.5v1.5h-1.5zM445 91.6h1.5v1.5h-1.5zM427.5 102.7h1.5v1.5h-1.5zM442.1 86.3h1.5v1.5h-1.5zM391.9 124.6h1.5v1.5h-1.5zM397.2 119.8h1.5v1.5h-1.5zM442.1 88.6h1.5v1.5h-1.5zM415.1 106.2h1.5v1.5h-1.5zM425.2 150.5h1.5v1.5h-1.5zM390.4 126.9h1.5v1.5h-1.5zM407.1 113.9h1.5v1.5h-1.5zM412.5 109.3h1.5v1.5h-1.5zM405.4 106.3h1.5v1.5h-1.5zM455.2 116.4h1.5v1.5h-1.5zM420.3 104.8h1.5v1.5h-1.5zM459.5 111.9h1.5v1.5h-1.5zM460.4 108h1.5v1.5h-1.5zM455 115.4h1.5v1.5h-1.5zM428.9 101.1h1.5v1.5h-1.5zM440.6 96h1.5v1.5h-1.5zM439.1 133.1h1.5v1.5h-1.5zM461.9 81.7h1.5v1.5h-1.5zM396.2 113.2h1.5v1.5h-1.5zM436 98.1h1.5v1.5h-1.5zM428.7 101.2h1.5v1.5h-1.5zM401.4 118.2h1.5v1.5h-1.5zM435.8 142.4h1.5v1.5h-1.5zM391.2 119.7h1.5v1.5h-1.5zM435.2 143.7h1.5v1.5h-1.5zM433.6 92.6h1.5v1.5h-1.5zM454.5 116.5h1.5v1.5h-1.5zM446.6 91.8h1.5v1.5h-1.5zM406.1 103.8h1.5v1.5h-1.5zM432.6 99.6h1.5v1.5h-1.5zM449.7 93.7h1.5v1.5h-1.5zM370.4 156.1h1.5v1.5h-1.5zM408.8 108.1h1.5v1.5h-1.5zM434.5 94.9h1.5v1.5h-1.5zM452.4 98.5h1.5v1.5h-1.5zM453.9 118.4h1.5v1.5h-1.5zM457.4 109.6h1.5v1.5h-1.5zM390.2 109.8h1.5v1.5h-1.5zM450.9 84h1.5v1.5h-1.5zM455.6 100.4h1.5v1.5h-1.5zM454.8 95h1.5v1.5h-1.5zM436.8 97.4h1.5v1.5h-1.5zM425.1 96.9h1.5v1.5h-1.5zM427.4 99.3h1.5v1.5h-1.5zM397.3 121.2h1.5v1.5h-1.5zM413.4 109h1.5v1.5h-1.5zM396.5 118.7h1.5v1.5h-1.5zM400.8 106.8h1.5v1.5h-1.5zM400.8 119.1h1.5v1.5h-1.5zM401.8 116.9h1.5v1.5h-1.5zM455.7 100.9h1.5v1.5h-1.5zM432.4 139.9h1.5v1.5h-1.5zM458.1 115.6h1.5v1.5h-1.5zM412.2 108.8h1.5v1.5h-1.5zM377.6 127.6h1.5v1.5h-1.5zM407.9 111.8h1.5v1.5h-1.5zM449.7 95.1h1.5v1.5h-1.5zM430.9 99h1.5v1.5h-1.5zM460.5 106.3h1.5v1.5h-1.5zM460.7 105.4h1.5v1.5h-1.5zM406 109.3h1.5v1.5h-1.5zM440.8 96.6h1.5v1.5h-1.5zM421.7 102.9h1.5v1.5h-1.5zM452.6 121h1.5v1.5h-1.5zM430.7 140.5h1.5v1.5h-1.5zM427.6 151.8h1.5v1.5h-1.5zM405.5 114.3h1.5v1.5h-1.5zM428.5 99.4h1.5v1.5h-1.5zM400.6 116.5h1.5v1.5h-1.5zM431.2 100.2h1.5v1.5h-1.5zM434.7 136.4h1.5v1.5h-1.5zM409.7 109.2h1.5v1.5h-1.5zM416.4 101.4h1.5v1.5h-1.5zM440.6 96.5h1.5v1.5h-1.5zM436.7 94.9h1.5v1.5h-1.5zM438.7 93.8h1.5v1.5h-1.5zM434.8 99.6h1.5v1.5h-1.5zM409.4 105.8h1.5v1.5h-1.5zM401.6 113.7h1.5v1.5h-1.5zM394.7 121.2h1.5v1.5h-1.5zM413.5 164h1.5v1.5h-1.5zM417.5 157.8h1.5v1.5h-1.5zM410 165.9h1.5v1.5h-1.5zM415 163.4h1.5v1.5h-1.5zM427 146.7h1.5v1.5h-1.5zM417.6 160.8h1.5v1.5h-1.5zM383.3 126.3h1.5v1.5h-1.5zM426.1 146.6h1.5v1.5h-1.5zM391.1 120.8h1.5v1.5h-1.5zM427.7 148h1.5v1.5h-1.5zM391.1 126.9h1.5v1.5h-1.5zM426 150.1h1.5v1.5h-1.5zM420 156.1h1.5v1.5h-1.5zM420.7 153.7h1.5v1.5h-1.5zM389.8 123.2h1.5v1.5h-1.5zM398.7 121.2h1.5v1.5h-1.5zM414.6 159.3h1.5v1.5h-1.5zM422.4 153.3h1.5v1.5h-1.5zM421.4 152.4h1.5v1.5h-1.5zM420.4 154.8h1.5v1.5h-1.5zM387.2 127.4h1.5v1.5h-1.5zM418.7 160.5h1.5v1.5h-1.5zM386.4 120.4h1.5v1.5h-1.5zM408.7 169.8h1.5v1.5h-1.5zM403.1 59.5h1.5v1.5h-1.5zM372.7 98.1h1.5v1.5h-1.5zM414 88.8h1.5v1.5h-1.5zM401.3 114.1h1.5v1.5h-1.5zM379.2 134.3h1.5v1.5h-1.5zM403.5 85.4h1.5v1.5h-1.5zM395 103.2h1.5v1.5h-1.5zM403.1 89.2h1.5v1.5h-1.5zM407.3 73.4h1.5v1.5h-1.5zM382.1 126.5h1.5v1.5h-1.5zM363.3 107.2h1.5v1.5h-1.5zM379.1 100h1.5v1.5h-1.5zM384.1 112.7h1.5v1.5h-1.5zM368.1 108.6h1.5v1.5h-1.5zM346.1 116.6h1.5v1.5h-1.5zM404.4 112.5h1.5v1.5h-1.5zM395.6 69.4h1.5v1.5h-1.5zM438.3 87.6h1.5v1.5h-1.5zM379.6 89.9h1.5v1.5h-1.5zM364.6 130.7h1.5v1.5h-1.5zM382.8 81.3h1.5v1.5h-1.5zM388.8 113.6h1.5v1.5h-1.5zM401.2 111.7h1.5v1.5h-1.5zM384.6 121.9h1.5v1.5h-1.5zM369.6 85.5h1.5v1.5h-1.5zM393.1 119.3h1.5v1.5h-1.5zM379.1 101.1h1.5v1.5h-1.5zM386.4 87.2h1.5v1.5h-1.5zM423.7 100.9h1.5v1.5h-1.5zM393.8 115.4h1.5v1.5h-1.5zM386.3 97.2h1.5v1.5h-1.5zM447.5 79.8h1.5v1.5h-1.5zM351.1 139.1h1.5v1.5h-1.5zM402.6 111.9h1.5v1.5h-1.5zM375 116.3h1.5v1.5h-1.5zM387.1 96.2h1.5v1.5h-1.5zM448.3 77.5h1.5v1.5h-1.5zM401.1 118.6h1.5v1.5h-1.5zM423.7 86.3h1.5v1.5h-1.5zM366.9 71.7h1.5v1.5h-1.5zM425.6 85.8h1.5v1.5h-1.5zM432.8 96.6h1.5v1.5h-1.5zM308.5 148.2h1.5v1.5h-1.5zM389.9 65.3h1.5v1.5h-1.5zM362.6 115.1h1.5v1.5h-1.5zM385.2 102.8h1.5v1.5h-1.5zM386.6 82.3h1.5v1.5h-1.5zM398.3 99.7h1.5v1.5h-1.5zM428.4 88.9h1.5v1.5h-1.5zM389.9 108.2h1.5v1.5h-1.5zM410 63.8h1.5v1.5h-1.5zM343.8 110.6h1.5v1.5h-1.5zM386.2 129.6h1.5v1.5h-1.5zM364.2 122.1h1.5v1.5h-1.5zM384.1 125.2h1.5v1.5h-1.5zM444.9 83h1.5v1.5h-1.5zM433.3 74.5h1.5v1.5h-1.5zM391.8 126.9h1.5v1.5h-1.5zM351.3 142.9h1.5v1.5h-1.5zM405.7 106h1.5v1.5h-1.5zM400.6 94.6h1.5v1.5h-1.5zM393.9 89.8h1.5v1.5h-1.5zM403.7 115h1.5v1.5h-1.5zM362.4 123.1h1.5v1.5h-1.5zM412.1 72.3h1.5v1.5h-1.5zM386.9 121.8h1.5v1.5h-1.5zM440.9 135h1.5v1.5h-1.5zM347.3 82.2h1.5v1.5h-1.5zM374.7 108.1h1.5v1.5h-1.5zM413.4 92.5h1.5v1.5h-1.5zM394 98.9h1.5v1.5h-1.5zM402 79.6h1.5v1.5h-1.5zM384.8 77.7h1.5v1.5h-1.5zM382.2 109.1h1.5v1.5h-1.5zM383.7 78h1.5v1.5h-1.5zM378.2 85.7h1.5v1.5h-1.5zM376.8 98.1h1.5v1.5h-1.5zM367.3 134.5h1.5v1.5h-1.5zM377.1 144.7h1.5v1.5h-1.5zM403.1 63.2h1.5v1.5h-1.5zM391.5 115.9h1.5v1.5h-1.5zM372.6 97.3h1.5v1.5h-1.5zM391.8 93.7h1.5v1.5h-1.5zM420.6 104.6h1.5v1.5h-1.5zM379.6 92.6h1.5v1.5h-1.5zM411.7 100.4h1.5v1.5h-1.5zM439.9 93.7h1.5v1.5h-1.5zM411.4 82.4h1.5v1.5h-1.5zM410.4 91.4h1.5v1.5h-1.5zM381.3 83.4h1.5v1.5h-1.5zM397.1 103.1h1.5v1.5h-1.5zM382.2 99.4h1.5v1.5h-1.5zM399.8 121h1.5v1.5h-1.5zM408.3 97.5h1.5v1.5h-1.5zM379.2 73.3h1.5v1.5h-1.5zM392.5 126.3h1.5v1.5h-1.5zM445 87h1.5v1.5h-1.5zM418 87.1h1.5v1.5h-1.5zM415.4 93.7h1.5v1.5h-1.5zM431.8 83.7h1.5v1.5h-1.5zM426.6 74.2h1.5v1.5h-1.5zM405.4 78h1.5v1.5h-1.5zM396 81.2h1.5v1.5h-1.5zM363.6 160.7h1.5v1.5h-1.5zM392.4 104.4h1.5v1.5h-1.5zM393.7 120.2h1.5v1.5h-1.5zM386.5 111.8h1.5v1.5h-1.5zM372.2 105.3h1.5v1.5h-1.5zM421.7 84.4h1.5v1.5h-1.5zM350.6 156.3h1.5v1.5h-1.5zM411.2 91.3h1.5v1.5h-1.5zM422.2 84.8h1.5v1.5h-1.5zM356.4 124h1.5v1.5h-1.5zM359.5 127.3h1.5v1.5h-1.5zM391.6 102.4h1.5v1.5h-1.5zM385.5 88h1.5v1.5h-1.5zM374.9 88.4h1.5v1.5h-1.5zM407.9 106.3h1.5v1.5h-1.5zM365.9 101h1.5v1.5h-1.5zM423.6 87.3h1.5v1.5h-1.5zM416.2 98.6h1.5v1.5h-1.5zM393.1 95.8h1.5v1.5h-1.5zM404.5 88.1h1.5v1.5h-1.5zM392.8 117.1h1.5v1.5h-1.5zM364.1 94h1.5v1.5h-1.5zM367.9 124.5h1.5v1.5h-1.5zM390.6 99h1.5v1.5h-1.5zM366.3 157h1.5v1.5h-1.5zM378.9 119.8h1.5v1.5h-1.5zM379.5 116.2h1.5v1.5h-1.5zM393.3 104h1.5v1.5h-1.5zM371.6 100h1.5v1.5h-1.5zM373.4 105.1h1.5v1.5h-1.5zM411.6 105.5h1.5v1.5h-1.5zM394.1 122.3h1.5v1.5h-1.5zM355.8 72.4h1.5v1.5h-1.5zM396.4 84.3h1.5v1.5h-1.5zM383.4 106.6h1.5v1.5h-1.5zM363.2 140.8h1.5v1.5h-1.5zM391.3 117.2h1.5v1.5h-1.5zM382.8 118.6h1.5v1.5h-1.5zM403.2 71.4h1.5v1.5h-1.5zM379.1 94.4h1.5v1.5h-1.5zM380.4 119.1h1.5v1.5h-1.5zM390.7 81.9h1.5v1.5h-1.5zM362.4 147.5h1.5v1.5h-1.5zM411.4 72.1h1.5v1.5h-1.5zM373.6 116.7h1.5v1.5h-1.5zM380.8 96.8h1.5v1.5h-1.5zM345.9 149.1h1.5v1.5h-1.5zM415 99.6h1.5v1.5h-1.5zM394.4 117.2h1.5v1.5h-1.5zM383.8 125.3h1.5v1.5h-1.5zM406.2 64.1h1.5v1.5h-1.5zM368.9 111.8h1.5v1.5h-1.5zM395.9 119.8h1.5v1.5h-1.5zM357.7 97.8h1.5v1.5h-1.5zM413.9 105.6h1.5v1.5h-1.5zM355.6 101.2h1.5v1.5h-1.5zM350.7 108.1h1.5v1.5h-1.5zM415.4 85h1.5v1.5h-1.5zM339 79.5h1.5v1.5h-1.5zM360.1 147.7h1.5v1.5h-1.5zM436.3 84.9h1.5v1.5h-1.5zM379.9 112.2h1.5v1.5h-1.5zM407.9 92.7h1.5v1.5h-1.5zM396.4 108.4h1.5v1.5h-1.5zM400.3 108.1h1.5v1.5h-1.5zM381.3 102.4h1.5v1.5h-1.5zM367.8 125.1h1.5v1.5h-1.5zM363 113.3h1.5v1.5h-1.5zM410.4 84h1.5v1.5h-1.5zM411.7 98.8h1.5v1.5h-1.5zM418.7 99.9h1.5v1.5h-1.5zM381.3 102.3h1.5v1.5h-1.5zM385.4 115.6h1.5v1.5h-1.5zM397.4 110.1h1.5v1.5h-1.5zM360.4 159.5h1.5v1.5h-1.5zM380.9 78.9h1.5v1.5h-1.5zM396.2 106.2h1.5v1.5h-1.5zM363.4 125.5h1.5v1.5h-1.5zM387.9 117.6h1.5v1.5h-1.5zM366.8 136.4h1.5v1.5h-1.5zM379.7 108h1.5v1.5h-1.5zM379.4 103.3h1.5v1.5h-1.5zM376.1 102h1.5v1.5h-1.5zM375.9 121.1h1.5v1.5h-1.5zM391 111.2h1.5v1.5h-1.5zM420.5 66h1.5v1.5h-1.5zM363.4 106.3h1.5v1.5h-1.5zM435.7 91h1.5v1.5h-1.5zM345.9 139h1.5v1.5h-1.5zM428.1 96.6h1.5v1.5h-1.5zM362.3 123.3h1.5v1.5h-1.5zM413.1 109h1.5v1.5h-1.5zM356.5 122.9h1.5v1.5h-1.5zM399.5 64.1h1.5v1.5h-1.5zM380.2 90.3h1.5v1.5h-1.5zM383.2 99.2h1.5v1.5h-1.5zM425.6 94.9h1.5v1.5h-1.5zM361.8 104h1.5v1.5h-1.5zM376.1 129h1.5v1.5h-1.5zM404.6 113.7h1.5v1.5h-1.5zM377.1 120.6h1.5v1.5h-1.5zM409.4 113h1.5v1.5h-1.5zM333.5 116.3h1.5v1.5h-1.5zM391.2 58.5h1.5v1.5h-1.5zM375.8 85.3h1.5v1.5h-1.5zM383 116h1.5v1.5h-1.5zM411.1 105.8h1.5v1.5h-1.5zM380.1 101.3h1.5v1.5h-1.5zM377.2 103.3h1.5v1.5h-1.5zM379.9 112h1.5v1.5h-1.5zM402.8 106.5h1.5v1.5h-1.5zM411 84.3h1.5v1.5h-1.5zM368.2 165h1.5v1.5h-1.5zM372.5 103.2h1.5v1.5h-1.5zM426.8 100.4h1.5v1.5h-1.5zM375.5 99.2h1.5v1.5h-1.5zM396.4 88.1h1.5v1.5h-1.5zM426.4 100.3h1.5v1.5h-1.5zM399.4 96.1h1.5v1.5h-1.5zM357.4 141.4h1.5v1.5h-1.5zM425.1 102.3h1.5v1.5h-1.5zM408.8 63.6h1.5v1.5h-1.5zM390.4 113.9h1.5v1.5h-1.5zM394.5 122h1.5v1.5h-1.5zM410.4 110.2h1.5v1.5h-1.5zM377.8 139.7h1.5v1.5h-1.5zM411.5 98.6h1.5v1.5h-1.5zM394.2 115.5h1.5v1.5h-1.5zM397.9 118.4h1.5v1.5h-1.5zM343.2 72.9h1.5v1.5h-1.5zM327.1 72.3h1.5v1.5h-1.5zM317.6 88.8h1.5v1.5h-1.5zM308.7 115h1.5v1.5h-1.5zM341.3 121.2h1.5v1.5h-1.5zM329.8 108.3h1.5v1.5h-1.5zM313.5 118.5h1.5v1.5h-1.5zM316.3 131.8h1.5v1.5h-1.5zM370.2 103.1h1.5v1.5h-1.5zM329 141.1h1.5v1.5h-1.5zM344.1 65.2h1.5v1.5h-1.5zM347.8 119.8h1.5v1.5h-1.5zM360.7 131.3h1.5v1.5h-1.5zM340.9 113.3h1.5v1.5h-1.5zM329 130.1h1.5v1.5h-1.5zM313.1 117.9h1.5v1.5h-1.5zM307.8 73.1h1.5v1.5h-1.5zM325.9 121.9h1.5v1.5h-1.5zM350.6 98.8h1.5v1.5h-1.5zM357.8 135.6h1.5v1.5h-1.5zM322.6 111.4h1.5v1.5h-1.5zM365.5 96.8h1.5v1.5h-1.5zM367.1 100.7h1.5v1.5h-1.5zM358.3 145.3h1.5v1.5h-1.5zM335.7 94.1h1.5v1.5h-1.5zM365 85.6h1.5v1.5h-1.5zM348.5 61.4h1.5v1.5h-1.5zM318.2 83.8h1.5v1.5h-1.5zM365.6 126.3h1.5v1.5h-1.5zM364.2 100.4h1.5v1.5h-1.5zM345.1 144h1.5v1.5h-1.5zM350.8 132.7h1.5v1.5h-1.5zM323.7 115.9h1.5v1.5h-1.5zM335.5 78.4h1.5v1.5h-1.5zM326 142.5h1.5v1.5h-1.5zM325 117.4h1.5v1.5h-1.5zM316.4 139.5h1.5v1.5h-1.5zM365.6 121.4h1.5v1.5h-1.5zM338.4 153.7h1.5v1.5h-1.5zM350.5 159h1.5v1.5h-1.5zM319.9 156.4h1.5v1.5h-1.5zM335.4 180.8h1.5v1.5h-1.5zM350.9 154h1.5v1.5h-1.5zM356.2 168.7h1.5v1.5h-1.5zM354.9 184.2h1.5v1.5h-1.5zM483.8 201.8h1.5v1.5h-1.5zM439.2 190.4h1.5v1.5h-1.5zM309.2 76.2h1.5v1.5h-1.5zM310.2 80.2h1.5v1.5h-1.5zM419.2 49.2h1.5v1.5h-1.5z" fill="#111"/>
<path d="M465 12V79M440 44.6H495.5" stroke="#111" stroke-width="1.5" fill="none"/>
<text x="458.3" y="37.8" font-size="16.5" font-weight="bold" text-anchor="end" fill="#000">0</text>
<text x="467.3" y="37.8" font-size="16.5" font-weight="bold" text-anchor="start" fill="#000">58</text>
<text x="458.3" y="62.6" font-size="16.5" font-weight="bold" text-anchor="end" fill="#000">0</text>
<text x="467.3" y="62.6" font-size="16.5" font-weight="bold" text-anchor="start" fill="#000">42</text>
<rect x="55.5" y="298" width="197.5" height="197.5" fill="none" stroke="#5a5a5a" stroke-width="1.1"/>
<path d="M76 495.5v5.2M97 495.5v5.2M145.5 495.5v5.2M191 495.5v5.2M234 495.5v5.2M111.6 495.5v2.2M120.1 495.5v2.2M126.2 495.5v2.2M130.9 495.5v2.2M134.7 495.5v2.2M138 495.5v2.2M140.8 495.5v2.2M143.3 495.5v2.2M159.2 495.5v2.2M167.2 495.5v2.2M172.9 495.5v2.2M177.3 495.5v2.2M180.9 495.5v2.2M184 495.5v2.2M186.6 495.5v2.2M188.9 495.5v2.2M203.9 495.5v2.2M211.5 495.5v2.2M216.9 495.5v2.2M221.1 495.5v2.2M224.5 495.5v2.2M227.3 495.5v2.2M229.8 495.5v2.2M232 495.5v2.2M246.9 495.5v2.2M80.2 495.5v2.2M72.1 495.5v2.2M83.5 495.5v2.2M69.1 495.5v2.2M85.8 495.5v2.2M66.9 495.5v2.2M87.8 495.5v2.2M65 495.5v2.2M89.5 495.5v2.2M63.4 495.5v2.2M91.2 495.5v2.2M61.9 495.5v2.2M92.7 495.5v2.2M60.5 495.5v2.2M94.2 495.5v2.2M59.1 495.5v2.2M95.6 495.5v2.2M57.8 495.5v2.2M56.5 495.5v5.2M55.5 475h-5.2M55.5 453.7h-5.2M55.5 406h-5.2M55.5 360h-5.2M55.5 316h-5.2M55.5 439.3h-2.2M55.5 430.9h-2.2M55.5 425h-2.2M55.5 420.4h-2.2M55.5 416.6h-2.2M55.5 413.4h-2.2M55.5 410.6h-2.2M55.5 408.2h-2.2M55.5 392.2h-2.2M55.5 384.1h-2.2M55.5 378.3h-2.2M55.5 373.8h-2.2M55.5 370.2h-2.2M55.5 367.1h-2.2M55.5 364.5h-2.2M55.5 362.1h-2.2M55.5 346.8h-2.2M55.5 339h-2.2M55.5 333.5h-2.2M55.5 329.2h-2.2M55.5 325.8h-2.2M55.5 322.8h-2.2M55.5 320.3h-2.2M55.5 318h-2.2M55.5 302.8h-2.2M55.5 470.7h-2.2M55.5 479h-2.2M55.5 467.4h-2.2M55.5 482h-2.2M55.5 465.1h-2.2M55.5 484.3h-2.2M55.5 463.1h-2.2M55.5 486.1h-2.2M55.5 461.3h-2.2M55.5 487.8h-2.2M55.5 459.6h-2.2M55.5 489.3h-2.2M55.5 458h-2.2M55.5 490.8h-2.2M55.5 456.6h-2.2M55.5 492.2h-2.2M55.5 455.1h-2.2M55.5 493.5h-2.2M55.5 494.8h-5.2" stroke="#222" stroke-width="1" fill="none"/>
<path d="M75.5 495.5v5.2M55.5 475.3h-5.2" stroke="#111" stroke-width="2.2" fill="none"/>
<text x="76" y="515.2" font-size="10.3" letter-spacing="0.25" text-anchor="middle" fill="#111" stroke="#111" stroke-width="0.2">0</text>
<text x="97.8" y="515.2" font-size="10.3" letter-spacing="0.25" text-anchor="middle" fill="#111" stroke="#111" stroke-width="0.2">10<tspan dy="-3.9" dx="0.3" font-size="8.4">2</tspan></text>
<text x="146.3" y="515.2" font-size="10.3" letter-spacing="0.25" text-anchor="middle" fill="#111" stroke="#111" stroke-width="0.2">10<tspan dy="-3.9" dx="0.3" font-size="8.4">3</tspan></text>
<text x="191.8" y="515.2" font-size="10.3" letter-spacing="0.25" text-anchor="middle" fill="#111" stroke="#111" stroke-width="0.2">10<tspan dy="-3.9" dx="0.3" font-size="8.4">4</tspan></text>
<text x="234.8" y="515.2" font-size="10.3" letter-spacing="0.25" text-anchor="middle" fill="#111" stroke="#111" stroke-width="0.2">10<tspan dy="-3.9" dx="0.3" font-size="8.4">5</tspan></text>
<text x="47.1" y="478.8" font-size="10.3" letter-spacing="0.25" text-anchor="end" fill="#111" stroke="#111" stroke-width="0.2">0</text>
<text x="47.1" y="457.7" font-size="10.3" letter-spacing="0.25" text-anchor="end" fill="#111" stroke="#111" stroke-width="0.2">10<tspan dy="-3.9" dx="0.3" font-size="8.4">2</tspan></text>
<text x="47.1" y="410" font-size="10.3" letter-spacing="0.25" text-anchor="end" fill="#111" stroke="#111" stroke-width="0.2">10<tspan dy="-3.9" dx="0.3" font-size="8.4">3</tspan></text>
<text x="47.1" y="364" font-size="10.3" letter-spacing="0.25" text-anchor="end" fill="#111" stroke="#111" stroke-width="0.2">10<tspan dy="-3.9" dx="0.3" font-size="8.4">4</tspan></text>
<text x="47.1" y="320" font-size="10.3" letter-spacing="0.25" text-anchor="end" fill="#111" stroke="#111" stroke-width="0.2">10<tspan dy="-3.9" dx="0.3" font-size="8.4">5</tspan></text>
<text x="154.1" y="534.8" font-size="17.5" font-weight="bold" text-anchor="middle" fill="#000">CD98</text>
<text x="21" y="382.7" font-size="17.8" font-weight="bold" text-anchor="middle" fill="#000" transform="rotate(-90 21 382.7)">sIgM</text>
<text x="154.6" y="293" font-size="17.6" font-weight="bold" text-anchor="middle" fill="#000">pre-sort</text>
<clipPath id="cB1"><rect x="55.5" y="298" width="197.5" height="196.3"/></clipPath><g clip-path="url(#cB1)">
<path d="M172.2 472.4L170.8 472.3L169.8 471.5L169.1 470.2L168.8 468.2L169.1 464.2L169.6 462.2L170.2 460.9L170.8 460.4L171.8 460.1L172.8 460.5L173.8 461.7L175.1 463.8L175.5 465.2L175.2 467.8L174.7 469.8L173.8 471.3L172.2 472.4Z" fill="none" stroke="#111" stroke-width="1.00" stroke-linejoin="round"/>
<path d="M172.2 476.3L171.2 476.4L170.2 476.1L168.8 475.3L167.8 474.5L166.7 472.8L166.3 471.2L166.2 469.8L166.9 462.8L168.3 458.2L168.8 457.6L169.8 456.8L170.8 456.4L172.2 456.2L173.2 456.4L174.2 457L176.9 460.8L177.6 462.8L178 466.2L177.5 469.2L176.8 471.2L175.8 473.2L174.2 475.2L173.2 476L172.2 476.3Z" fill="none" stroke="#111" stroke-width="1.00" stroke-linejoin="round"/>
<path d="M172.8 480.3L171.2 480.6L170.2 480.2L166.8 476.4L165.9 475.2L165.2 473.8L164.4 471.2L164.2 469.8L164.7 466.2L164.9 462.2L165.7 458.8L166.2 457.1L167.7 455.2L170.2 453.3L171.8 452.4L173.2 452.2L174.8 452.6L175.8 453.4L176.6 454.8L177.7 457.2L179.2 459.8L179.6 461.2L180.1 466.8L179.8 469.2L177.9 474.2L176.8 476L173.8 479.4L172.8 480.3Z" fill="none" stroke="#111" stroke-width="1.00" stroke-linejoin="round"/>
<path d="M172.8 483.4L171.2 483.6L170.2 483.4L169.2 482.9L168.1 481.8L164.8 476.8L163.9 475.2L162.8 471.8L162.5 469.2L163.1 461.2L163.7 458.2L164.4 456.2L168.3 450.8L169.2 450.1L170.2 449.7L172.8 449.3L174.8 449.6L176.2 450.2L178 451.8L179.5 453.8L180.2 455.2L180.8 457.8L181.7 460.2L182.9 464.8L182 469.2L180 475.2L179.1 476.8L177 479.2L175.2 481.8L174.2 482.7L172.8 483.4Z" fill="none" stroke="#111" stroke-width="1.00" stroke-linejoin="round"/>
<path d="M172.2 486.3L170.8 486.3L169.2 485.7L167 483.8L165.4 481.8L163.3 478.2L162.2 475.8L161.2 471.2L160.9 468.2L161.4 460.2L162 457.2L163 454.8L166.1 449.2L167.2 447.8L168.2 447.1L169.8 446.4L172.2 445.9L174.2 446.3L176.8 447.5L177.8 448.2L182.4 452.8L183 453.8L183.7 456.8L184.8 459.8L186.2 462.2L186.4 463.2L186.1 464.8L184.8 467.8L184 471.8L182.8 475.2L181.7 477.2L176.8 483.9L175.2 484.9L172.2 486.3ZM173.2 492.8L170.8 492.9L169.9 492.8L169 492.2L169.1 491.8L170.2 491.2L172.2 491.1L173.2 491.3L174.3 491.8L174.5 492.2L173.2 492.8Z" fill="none" stroke="#111" stroke-width="1.00" stroke-linejoin="round"/>
<path d="M173.8 493.8L171.2 493.9L168.2 493.5L166.2 493L165.5 492.2L165.6 491.8L165.9 491.2L167.8 489.8L168.3 489.2L168.4 488.8L167.5 487.2L164.1 483.2L162.1 479.8L160.6 475.2L159.6 468.8L159.9 461.8L160.4 457.8L160.9 455.8L162.6 451.8L165.2 447.2L166.2 446L167.8 444.8L168.8 444.3L171.2 443.6L172.2 443.7L173.8 444L177 445.2L178.8 446.2L181.8 448.9L186.7 452.2L188.6 454.2L190.5 455.8L191 456.2L191.5 457.2L191.4 460.2L191.9 463.2L191.8 464.2L191.2 465.2L188.8 466.2L187.8 467.3L187.3 468.2L186.8 471.2L184.8 475.8L179.9 483.2L178.2 485.1L175.2 487.2L174.2 488.2L174 488.8L174.2 489.2L177.8 491.2L178.2 491.8L178.2 492.2L177.7 492.8L176.5 493.2L173.8 493.8Z" fill="none" stroke="#111" stroke-width="1.00" stroke-linejoin="round"/>
<path d="M173.8 494.3L170.8 494.4L166.8 493.9L164.6 493.2L163.8 492.8L163.5 492.2L163.6 491.8L163.9 491.2L165.4 489.8L165.6 489.2L165.6 488.2L165.1 487.2L161.9 482.8L161 480.8L159.3 475.2L158.6 469.2L158.9 461.2L159.3 457.2L159.8 454.8L161 451.8L164.1 446.2L166.8 443L168.2 442L170.8 441.6L172.2 441.8L175.8 443.1L179.8 444.1L180.8 444.7L182.8 446.8L184.8 448.2L186.2 448.9L188.2 449.1L189.2 449.4L190.2 450.2L191.2 451.8L192.4 452.8L195.2 454.3L197.8 455.2L199.2 455.9L201.4 457.2L203 458.8L203.3 459.8L203 460.2L202.2 460.7L200.3 461.2L199.7 461.8L199.7 462.8L200.8 464.4L201.2 464.5L201.8 464.4L203.2 462.8L204.2 462.2L205.2 462.4L205.8 462.7L206.2 463.3L206.5 464.2L206.2 465L205.8 465.6L201.8 468.7L201.2 468.8L199.8 467.7L198.8 467.7L194.8 469.5L192.8 470.6L190.2 471.2L189.8 471.4L188.7 472.8L186.7 476.8L184.1 479.8L181.2 484.2L177.8 487.8L177.6 488.8L177.9 489.2L180 491.2L180.3 491.8L180.2 492.4L179.1 493.2L177.8 493.7L173.8 494.3Z" fill="none" stroke="#2a2a2a" stroke-width="0.85" stroke-linejoin="round"/>
<path d="M174.2 494.8L170.8 494.9L166.2 494.5L163.3 493.8L161.1 492.8L160.8 492.2L161 491.8L163 489.8L163.3 488.8L162.8 487.2L160.5 483.8L159.9 482.2L157.8 475.2L157.3 470.8L157.4 465.8L158 456.8L158.5 453.8L159.4 451.2L162.6 445.2L166.2 440.6L167.8 439.6L171.2 438.9L173.6 439.2L181.2 441.8L182.2 442.4L184.8 444.4L188.2 445.3L192.2 446.8L193.2 447.3L195.2 448.8L204.2 453L205.8 454.2L207.2 456L209.2 459.3L209.7 461.2L209.7 465.2L208.4 469.8L208 471.8L207.6 472.8L206.8 473.3L203.4 474.2L200.8 475.6L199.8 475.6L197.2 474.4L196.2 474.3L193.2 475L191.2 476L188.2 478.9L186.2 480.3L185.2 481.2L183.1 484.8L180.5 487.8L180.3 488.8L180.5 489.2L182.6 491.8L182.7 492.2L182.4 492.8L181.8 493.2L180.2 493.8L177.2 494.4L174.2 494.8Z" fill="none" stroke="#2a2a2a" stroke-width="0.85" stroke-linejoin="round"/>
<path d="M175.2 495.3L171.2 495.5L166.2 495.1L160.2 494L158.5 493.2L158.2 492.8L158.1 492.2L158.7 491.2L160 489.8L160.3 489.2L160.4 488.2L158.5 483.8L157.7 480.2L156.3 476.2L155.5 472.8L155.3 470.8L155.5 467.2L155.4 463.2L156.5 454.8L157.5 450.8L158.7 447.8L161.2 443.6L165.8 438.1L167.2 437.2L170.2 436.2L174.8 435.7L175.8 435.8L178.2 436.9L181.2 437.3L183.8 438.1L184.8 438.5L186.2 439.7L186.8 439.9L189.2 439.8L190.2 440L191.5 440.8L193.2 442.4L194.2 442.9L195.8 443.1L198.2 442.3L199.2 442.5L199.9 443.2L200.9 445.8L202.2 447.2L203.8 448L206.8 448.6L208.2 449.4L209.2 450.6L211 453.2L211.9 456.8L213 459.8L213.3 461.2L213.2 465.8L213.4 469.2L213 473.8L212.2 477.4L211.2 478.7L208.8 480.1L207.2 481.9L205.8 482.5L203.2 482.8L202.2 482.8L196.8 479.9L195.2 479.6L193.8 479.7L190.2 481.9L187.9 483.8L185.2 486.1L183.9 487.8L183.7 488.8L183.8 489.2L186 491.8L186.1 492.2L185.8 492.8L183.7 493.8L181.8 494.4L175.2 495.3Z" fill="none" stroke="#2a2a2a" stroke-width="0.85" stroke-linejoin="round"/>
<path d="M175.8 495.8L171.2 496L165.2 495.5L158.8 494.5L157.2 494L156.2 493.2L155.9 492.8L155.9 492.2L157.9 489.8L158.2 488.2L156.2 481.3L155.1 478.2L153.7 473.2L153.4 471.2L153.5 467.8L153.2 464.8L153.2 462.8L154 458.2L155.2 453.2L156.1 448.8L156.8 447L158 444.8L159.7 442.2L162.2 439.7L164.8 436.6L166.2 435.4L169.8 433.4L171.2 433L175.8 433.1L178.8 434.4L182.2 434L184.8 434.3L186.2 434.8L189.8 436.8L200.2 439.2L202.2 440.1L204.2 441.7L206.8 443.1L210.2 445.6L211.6 447.2L212.6 449.8L214 452.2L214.3 455.8L215.8 458.8L216 459.8L215.9 463.8L216.8 468.2L216.7 473.8L216.3 474.8L215 477.2L214.4 480.8L213.8 482.2L212.1 484.2L209.2 486.3L207.1 488.2L207.1 488.8L211.4 491.8L211.6 492.2L211.4 492.8L210.8 493.2L209.1 493.8L206.8 493.9L200.8 493.3L199 492.8L198.3 492.2L198.6 491.8L200.8 490.8L204.2 490.1L206.1 488.8L205.9 488.2L204.2 487.5L200.8 487.1L197.8 485.8L195.2 485.5L193.2 484.7L192.2 484.5L191.2 484.7L190.2 485.3L189.1 486.8L187.9 488.8L188.2 489.8L190.4 491.8L190.7 492.2L190.5 492.8L189.6 493.2L187.9 493.8L182.2 495L175.8 495.8Z" fill="none" stroke="#2a2a2a" stroke-width="0.85" stroke-linejoin="round"/>
<path d="M179.8 496.3L175.2 496.6L170.8 496.7L166.2 496.5L159.8 495.9L157.2 495.5L152.2 494.1L150.8 493.3L150.4 492.8L150.4 492.2L150.8 491.8L154.2 489.8L154.8 488.8L154.7 487.8L154.2 486.4L152 481.8L151.6 477.2L150.3 473.2L150.3 469.2L149.6 466.2L149.5 465.2L150.5 460.8L150.7 458.2L150.5 455.2L150.7 454.2L152.6 450.8L153.5 445.8L154.5 443.2L155.8 440.9L158.8 436.7L159.7 435.8L161.2 434.7L162.2 433.8L163.5 430.8L164.8 429.2L166.8 428.3L170.2 427.6L172.2 427.5L175.8 427.7L178.8 427.5L181.2 427.7L184.2 427.2L187.8 428L191.8 428.1L193.5 428.8L197.3 430.8L200.2 431.8L203.2 434.7L204.2 434.8L206.8 434.5L207.8 434.8L210.2 437.2L212.4 438.2L213.2 439.1L215 443.2L216 446.8L216.6 447.8L218 449.2L218.8 450.7L219.4 454.8L220.9 458.8L221.2 460.2L221.3 461.2L220.8 464.2L221.3 468.2L220.3 472.2L220.6 475.2L220.6 476.8L218.7 482.2L217.8 485.9L216.2 488.8L216.1 489.2L216.2 490.2L217.5 492.2L217.4 492.8L216.9 493.2L216 493.8L212.8 494.7L209.2 495.3L206.8 495.3L197.8 494.9L193.8 494.8L188.2 495.2L179.8 496.3Z" fill="none" stroke="#2a2a2a" stroke-width="0.85" stroke-linejoin="round"/>
</g>
<path d="M149.5 459.7h1.5v1.5h-1.5zM151.1 480.9h1.5v1.5h-1.5zM161.3 431h1.5v1.5h-1.5zM165 424.7h1.5v1.5h-1.5zM151 480.4h1.5v1.5h-1.5zM147.7 466.1h1.5v1.5h-1.5zM160.6 430.9h1.5v1.5h-1.5zM149.1 453.5h1.5v1.5h-1.5zM175.6 424h1.5v1.5h-1.5zM153.5 440.8h1.5v1.5h-1.5zM176.8 423.1h1.5v1.5h-1.5zM145.9 471.1h1.5v1.5h-1.5zM144.6 461.7h1.5v1.5h-1.5zM172.3 407.8h1.5v1.5h-1.5zM143.2 464.6h1.5v1.5h-1.5zM152.5 427.2h1.5v1.5h-1.5zM165.9 417.7h1.5v1.5h-1.5zM150.7 480.6h1.5v1.5h-1.5zM159.2 430.4h1.5v1.5h-1.5zM150.7 488.8h1.5v1.5h-1.5zM170.7 424.7h1.5v1.5h-1.5zM150.2 490.2h1.5v1.5h-1.5zM143.7 438.9h1.5v1.5h-1.5zM161.8 427.5h1.5v1.5h-1.5zM168.9 417.8h1.5v1.5h-1.5zM171.5 424.8h1.5v1.5h-1.5zM146 480.8h1.5v1.5h-1.5zM149.9 452.5h1.5v1.5h-1.5zM153.2 417.5h1.5v1.5h-1.5zM192.9 420.9h1.5v1.5h-1.5zM153 427.3h1.5v1.5h-1.5zM150.1 441.6h1.5v1.5h-1.5zM162.5 428.5h1.5v1.5h-1.5zM144.9 448.5h1.5v1.5h-1.5zM166.4 419h1.5v1.5h-1.5zM154.2 434.2h1.5v1.5h-1.5zM175.2 419.5h1.5v1.5h-1.5zM136.7 457.3h1.5v1.5h-1.5zM149.5 439.3h1.5v1.5h-1.5zM184.8 426.4h1.5v1.5h-1.5zM147.2 476.1h1.5v1.5h-1.5zM146.8 472.6h1.5v1.5h-1.5zM152.7 426h1.5v1.5h-1.5zM153.2 437h1.5v1.5h-1.5zM161.6 415.8h1.5v1.5h-1.5zM147.6 459.2h1.5v1.5h-1.5zM191.7 425.4h1.5v1.5h-1.5zM144.7 454.3h1.5v1.5h-1.5zM174.3 424.1h1.5v1.5h-1.5zM146.2 474.6h1.5v1.5h-1.5zM149 454.9h1.5v1.5h-1.5zM146.3 483h1.5v1.5h-1.5zM179.3 421.7h1.5v1.5h-1.5zM172.1 407.7h1.5v1.5h-1.5zM161.6 427.2h1.5v1.5h-1.5zM151.2 450.5h1.5v1.5h-1.5zM152.3 432.6h1.5v1.5h-1.5zM151.2 448.7h1.5v1.5h-1.5zM150.8 439.8h1.5v1.5h-1.5zM150.9 437.4h1.5v1.5h-1.5zM147.5 479h1.5v1.5h-1.5zM178.4 422.9h1.5v1.5h-1.5zM154.5 439.8h1.5v1.5h-1.5zM151.3 437h1.5v1.5h-1.5zM147.6 492.4h1.5v1.5h-1.5zM168.7 420.5h1.5v1.5h-1.5zM155.3 432.3h1.5v1.5h-1.5zM145.2 490.4h1.5v1.5h-1.5zM150.8 486.6h1.5v1.5h-1.5zM148.7 465.4h1.5v1.5h-1.5zM138.4 441.1h1.5v1.5h-1.5zM149 492.4h1.5v1.5h-1.5zM166.3 421.8h1.5v1.5h-1.5zM139.1 477h1.5v1.5h-1.5zM144.8 484.7h1.5v1.5h-1.5zM195.3 426.4h1.5v1.5h-1.5zM148.5 491.8h1.5v1.5h-1.5zM149 439.3h1.5v1.5h-1.5zM152.2 446.9h1.5v1.5h-1.5zM187 425.8h1.5v1.5h-1.5zM155.7 428.1h1.5v1.5h-1.5zM160.1 431.4h1.5v1.5h-1.5zM155 433.8h1.5v1.5h-1.5zM151.7 486.9h1.5v1.5h-1.5zM151.8 444.9h1.5v1.5h-1.5zM204.2 431.1h1.5v1.5h-1.5zM208.7 431.1h1.5v1.5h-1.5zM221.3 490.4h1.5v1.5h-1.5zM207.3 431.1h1.5v1.5h-1.5zM199.3 429.4h1.5v1.5h-1.5zM199.1 429.8h1.5v1.5h-1.5zM173.8 421h1.5v1.5h-1.5zM222.4 448h1.5v1.5h-1.5zM160.9 429.7h1.5v1.5h-1.5zM221.1 485.2h1.5v1.5h-1.5zM220.8 461.2h1.5v1.5h-1.5zM221.9 489.5h1.5v1.5h-1.5zM175.3 426.1h1.5v1.5h-1.5zM139.5 465h1.5v1.5h-1.5zM161.5 427.5h1.5v1.5h-1.5zM221.6 441.7h1.5v1.5h-1.5zM159.2 430.1h1.5v1.5h-1.5zM223.5 436.8h1.5v1.5h-1.5zM202 431h1.5v1.5h-1.5zM222.8 472.9h1.5v1.5h-1.5zM205.3 413.4h1.5v1.5h-1.5zM207.1 430.6h1.5v1.5h-1.5zM145.6 462.5h1.5v1.5h-1.5zM188 424.9h1.5v1.5h-1.5zM230.6 473.6h1.5v1.5h-1.5zM206.2 432.6h1.5v1.5h-1.5zM159.5 427.7h1.5v1.5h-1.5zM224.1 447.2h1.5v1.5h-1.5zM203.5 432.7h1.5v1.5h-1.5zM213.5 437.3h1.5v1.5h-1.5zM147.2 456.3h1.5v1.5h-1.5zM187 410.9h1.5v1.5h-1.5zM212.1 436.3h1.5v1.5h-1.5zM180.5 425.8h1.5v1.5h-1.5zM162.2 427.2h1.5v1.5h-1.5zM144.1 465.9h1.5v1.5h-1.5zM199.1 424.9h1.5v1.5h-1.5zM182 425.5h1.5v1.5h-1.5zM224.2 472.5h1.5v1.5h-1.5zM222.7 462.1h1.5v1.5h-1.5zM196.5 426.2h1.5v1.5h-1.5zM200.3 423.2h1.5v1.5h-1.5zM206.1 429.9h1.5v1.5h-1.5zM183.3 426h1.5v1.5h-1.5zM200.3 428.1h1.5v1.5h-1.5zM203.7 416.6h1.5v1.5h-1.5zM205.1 432.5h1.5v1.5h-1.5zM155.7 417.8h1.5v1.5h-1.5zM223.8 457.2h1.5v1.5h-1.5zM199.7 431h1.5v1.5h-1.5zM186.4 414.5h1.5v1.5h-1.5zM188.9 423h1.5v1.5h-1.5zM200.4 413.4h1.5v1.5h-1.5zM226.4 475.5h1.5v1.5h-1.5zM237.2 443.8h1.5v1.5h-1.5zM172.1 418.1h1.5v1.5h-1.5zM223.8 451.6h1.5v1.5h-1.5zM225.3 446.9h1.5v1.5h-1.5zM191.4 418.4h1.5v1.5h-1.5zM219.8 488.6h1.5v1.5h-1.5zM221.9 474.7h1.5v1.5h-1.5zM217.9 492.3h1.5v1.5h-1.5zM223.3 472.2h1.5v1.5h-1.5zM224.4 455.1h1.5v1.5h-1.5zM220.9 484.6h1.5v1.5h-1.5zM210 431h1.5v1.5h-1.5zM221 455.2h1.5v1.5h-1.5zM214.8 436h1.5v1.5h-1.5zM220.7 472.8h1.5v1.5h-1.5zM224.2 442.7h1.5v1.5h-1.5zM218.6 486.9h1.5v1.5h-1.5zM224.1 461h1.5v1.5h-1.5zM220.2 483.3h1.5v1.5h-1.5zM221.1 454.5h1.5v1.5h-1.5zM217.3 487.3h1.5v1.5h-1.5zM214.9 423.2h1.5v1.5h-1.5zM210.8 426.7h1.5v1.5h-1.5zM220.3 453.6h1.5v1.5h-1.5zM211.7 430.6h1.5v1.5h-1.5zM217.7 486.8h1.5v1.5h-1.5zM215.8 441.1h1.5v1.5h-1.5zM213.6 434.3h1.5v1.5h-1.5zM220.4 470.1h1.5v1.5h-1.5zM221.9 459.9h1.5v1.5h-1.5zM210.8 435.3h1.5v1.5h-1.5zM220.7 464.8h1.5v1.5h-1.5zM219.4 484h1.5v1.5h-1.5zM217.6 484.1h1.5v1.5h-1.5zM216.5 490.1h1.5v1.5h-1.5zM223.8 477.7h1.5v1.5h-1.5zM223 459.7h1.5v1.5h-1.5zM220.2 470.4h1.5v1.5h-1.5zM219.4 451.3h1.5v1.5h-1.5zM220 434.4h1.5v1.5h-1.5zM223.1 477.8h1.5v1.5h-1.5zM225.7 470.1h1.5v1.5h-1.5zM221.7 491h1.5v1.5h-1.5zM195.9 405.8h1.5v1.5h-1.5zM204.2 424.1h1.5v1.5h-1.5zM185.7 414.2h1.5v1.5h-1.5zM217.5 424.2h1.5v1.5h-1.5zM215.2 429h1.5v1.5h-1.5zM207.1 419.3h1.5v1.5h-1.5zM190.8 415h1.5v1.5h-1.5zM210.4 403.9h1.5v1.5h-1.5zM226.1 414.3h1.5v1.5h-1.5zM174.8 424.6h1.5v1.5h-1.5zM207.3 396.8h1.5v1.5h-1.5zM211.2 411.5h1.5v1.5h-1.5zM179.5 337.5h1.5v1.5h-1.5zM209.2 416.3h1.5v1.5h-1.5zM155.3 401.6h1.5v1.5h-1.5zM185.4 384.3h1.5v1.5h-1.5zM216 434.4h1.5v1.5h-1.5zM171.7 414h1.5v1.5h-1.5zM190 413.8h1.5v1.5h-1.5zM224.5 435.1h1.5v1.5h-1.5zM176 405.1h1.5v1.5h-1.5zM230.3 399.9h1.5v1.5h-1.5zM187.1 398.7h1.5v1.5h-1.5zM178.4 420.4h1.5v1.5h-1.5zM210.4 429.4h1.5v1.5h-1.5zM194.9 373.5h1.5v1.5h-1.5zM164.5 417.3h1.5v1.5h-1.5zM212.5 433.3h1.5v1.5h-1.5zM180.7 403.7h1.5v1.5h-1.5zM200.5 416h1.5v1.5h-1.5zM204 406.8h1.5v1.5h-1.5zM201.8 417.6h1.5v1.5h-1.5zM158.8 425.5h1.5v1.5h-1.5zM225.6 434.3h1.5v1.5h-1.5zM170.4 405.1h1.5v1.5h-1.5zM206.3 428h1.5v1.5h-1.5zM199.6 416.3h1.5v1.5h-1.5zM207.7 391.9h1.5v1.5h-1.5zM200.3 427.4h1.5v1.5h-1.5zM174.7 390.8h1.5v1.5h-1.5zM175.7 399h1.5v1.5h-1.5zM215.3 395.3h1.5v1.5h-1.5zM180.5 415.6h1.5v1.5h-1.5zM159.8 422.2h1.5v1.5h-1.5zM154.1 414.5h1.5v1.5h-1.5zM217.1 407.2h1.5v1.5h-1.5zM163.8 419.7h1.5v1.5h-1.5zM191.7 379.3h1.5v1.5h-1.5zM200.7 413.5h1.5v1.5h-1.5zM174.8 423.1h1.5v1.5h-1.5zM188.9 427h1.5v1.5h-1.5zM220.9 433.4h1.5v1.5h-1.5zM223.7 422.9h1.5v1.5h-1.5zM181.5 410.7h1.5v1.5h-1.5zM167.6 422.4h1.5v1.5h-1.5zM234.9 397.7h1.5v1.5h-1.5zM217.3 416.7h1.5v1.5h-1.5zM209.3 384.3h1.5v1.5h-1.5zM196 404.6h1.5v1.5h-1.5zM180.4 401.4h1.5v1.5h-1.5zM166.5 418h1.5v1.5h-1.5zM189.4 407.3h1.5v1.5h-1.5zM172.9 398.7h1.5v1.5h-1.5zM219.1 437.9h1.5v1.5h-1.5zM195.4 404.5h1.5v1.5h-1.5zM183.8 389.7h1.5v1.5h-1.5zM200.7 419.1h1.5v1.5h-1.5zM201.1 396h1.5v1.5h-1.5zM185.8 399.6h1.5v1.5h-1.5zM183.7 368.7h1.5v1.5h-1.5zM171.7 417h1.5v1.5h-1.5zM167.8 402h1.5v1.5h-1.5zM212.5 426.6h1.5v1.5h-1.5zM166.1 404.2h1.5v1.5h-1.5zM214.4 432.9h1.5v1.5h-1.5zM231.8 403.8h1.5v1.5h-1.5zM216.2 428.8h1.5v1.5h-1.5zM194.9 391.2h1.5v1.5h-1.5zM220.5 387.5h1.5v1.5h-1.5zM192.3 419.4h1.5v1.5h-1.5zM152.7 430.7h1.5v1.5h-1.5zM192.7 420h1.5v1.5h-1.5zM208.8 428.6h1.5v1.5h-1.5zM152.9 431.4h1.5v1.5h-1.5zM190.8 422.1h1.5v1.5h-1.5zM162.7 418.4h1.5v1.5h-1.5zM222 419.7h1.5v1.5h-1.5zM146.9 429.8h1.5v1.5h-1.5zM210.3 434.2h1.5v1.5h-1.5zM198.9 416.1h1.5v1.5h-1.5zM183.7 372.8h1.5v1.5h-1.5zM208.4 432.7h1.5v1.5h-1.5zM218.3 438h1.5v1.5h-1.5zM186.3 420.3h1.5v1.5h-1.5zM172.4 396h1.5v1.5h-1.5zM213.3 433.9h1.5v1.5h-1.5zM170.4 410.8h1.5v1.5h-1.5zM178.7 390.4h1.5v1.5h-1.5zM201.5 376.3h1.5v1.5h-1.5zM210.5 398.4h1.5v1.5h-1.5zM184.7 395.7h1.5v1.5h-1.5zM211.3 416.2h1.5v1.5h-1.5zM183.3 424.7h1.5v1.5h-1.5zM156.6 430.7h1.5v1.5h-1.5zM208.6 418.7h1.5v1.5h-1.5zM204.6 392.6h1.5v1.5h-1.5zM198.4 403.6h1.5v1.5h-1.5zM209.7 394.3h1.5v1.5h-1.5zM197.1 427.7h1.5v1.5h-1.5zM192.5 423.5h1.5v1.5h-1.5zM185.5 394.1h1.5v1.5h-1.5zM147.8 413.9h1.5v1.5h-1.5zM178.5 405.9h1.5v1.5h-1.5zM160.1 426.1h1.5v1.5h-1.5zM178.2 423.9h1.5v1.5h-1.5zM188 416.5h1.5v1.5h-1.5zM185.6 411.1h1.5v1.5h-1.5zM183.9 425.6h1.5v1.5h-1.5zM199.5 414.1h1.5v1.5h-1.5zM147 402.9h1.5v1.5h-1.5zM184.6 369.7h1.5v1.5h-1.5zM202 400.9h1.5v1.5h-1.5zM180.1 411.9h1.5v1.5h-1.5zM218.8 398.2h1.5v1.5h-1.5zM195.6 398.1h1.5v1.5h-1.5zM171.8 420.1h1.5v1.5h-1.5zM209.8 393.7h1.5v1.5h-1.5zM160.9 431.4h1.5v1.5h-1.5zM200.1 415.1h1.5v1.5h-1.5zM196.1 407.2h1.5v1.5h-1.5zM170.1 391.4h1.5v1.5h-1.5zM171.6 377.3h1.5v1.5h-1.5zM210.2 408.3h1.5v1.5h-1.5zM225.8 399.4h1.5v1.5h-1.5zM190.2 418.2h1.5v1.5h-1.5zM198.3 423h1.5v1.5h-1.5zM228.6 414.4h1.5v1.5h-1.5zM138.4 398.3h1.5v1.5h-1.5zM210.8 423.9h1.5v1.5h-1.5zM179.9 426.2h1.5v1.5h-1.5zM206 396.2h1.5v1.5h-1.5zM183.2 419.8h1.5v1.5h-1.5zM195.8 406.2h1.5v1.5h-1.5zM201.3 371.9h1.5v1.5h-1.5zM157.9 389h1.5v1.5h-1.5zM231.8 422.6h1.5v1.5h-1.5zM193 387.9h1.5v1.5h-1.5zM160.7 428.3h1.5v1.5h-1.5zM191.2 419h1.5v1.5h-1.5zM197.5 414.2h1.5v1.5h-1.5zM171.7 426.6h1.5v1.5h-1.5zM165.6 418.2h1.5v1.5h-1.5zM195.4 406.2h1.5v1.5h-1.5zM205.8 399.8h1.5v1.5h-1.5zM167.5 399.6h1.5v1.5h-1.5zM195.4 422.9h1.5v1.5h-1.5zM199.9 424.4h1.5v1.5h-1.5zM193.8 413.1h1.5v1.5h-1.5zM209 412.5h1.5v1.5h-1.5zM172.9 421.8h1.5v1.5h-1.5zM210.7 404.5h1.5v1.5h-1.5zM211.4 418h1.5v1.5h-1.5zM204.2 421.8h1.5v1.5h-1.5zM201 360.4h1.5v1.5h-1.5zM183.5 411.1h1.5v1.5h-1.5zM202.9 427.5h1.5v1.5h-1.5zM168.6 410.8h1.5v1.5h-1.5zM167.8 425h1.5v1.5h-1.5zM177.9 422h1.5v1.5h-1.5zM194.6 424.3h1.5v1.5h-1.5zM195 416h1.5v1.5h-1.5zM192.4 416.4h1.5v1.5h-1.5zM197.1 428.5h1.5v1.5h-1.5zM197.6 412.7h1.5v1.5h-1.5zM202.6 433.2h1.5v1.5h-1.5zM211.2 432.3h1.5v1.5h-1.5zM175.6 412.6h1.5v1.5h-1.5zM220.4 421.3h1.5v1.5h-1.5zM161 418.8h1.5v1.5h-1.5zM215.8 422.1h1.5v1.5h-1.5zM211.7 422.4h1.5v1.5h-1.5zM175.8 375.9h1.5v1.5h-1.5zM203.2 397.4h1.5v1.5h-1.5zM221.8 408.9h1.5v1.5h-1.5zM194.4 428.9h1.5v1.5h-1.5zM193.2 421.8h1.5v1.5h-1.5zM204.3 389.6h1.5v1.5h-1.5zM213.9 417.3h1.5v1.5h-1.5zM164.7 425.6h1.5v1.5h-1.5zM162 403.7h1.5v1.5h-1.5zM225.2 432h1.5v1.5h-1.5zM150.7 414h1.5v1.5h-1.5zM189.8 398.2h1.5v1.5h-1.5zM199 428.5h1.5v1.5h-1.5zM171.7 404.3h1.5v1.5h-1.5zM178.7 405.8h1.5v1.5h-1.5zM187.6 384.7h1.5v1.5h-1.5zM167.9 417.8h1.5v1.5h-1.5zM234.1 432.7h1.5v1.5h-1.5zM189.8 426.8h1.5v1.5h-1.5zM206.6 387.6h1.5v1.5h-1.5zM198.1 430.3h1.5v1.5h-1.5zM213.4 430h1.5v1.5h-1.5zM186 417.1h1.5v1.5h-1.5zM189.7 406h1.5v1.5h-1.5zM176 388.3h1.5v1.5h-1.5zM195.7 426.8h1.5v1.5h-1.5zM192.9 423.4h1.5v1.5h-1.5zM195.4 420.9h1.5v1.5h-1.5zM179 408h1.5v1.5h-1.5zM159.2 421.3h1.5v1.5h-1.5zM175.8 426.2h1.5v1.5h-1.5zM178.2 422.7h1.5v1.5h-1.5zM192.4 392.6h1.5v1.5h-1.5zM210.8 434.1h1.5v1.5h-1.5zM169.5 418.4h1.5v1.5h-1.5zM218.7 412.5h1.5v1.5h-1.5zM188.8 416.3h1.5v1.5h-1.5zM201 409.5h1.5v1.5h-1.5zM171.7 402.7h1.5v1.5h-1.5zM158.2 430.5h1.5v1.5h-1.5zM175.6 402.7h1.5v1.5h-1.5zM205.4 409.8h1.5v1.5h-1.5zM191.5 366.5h1.5v1.5h-1.5zM160.5 403.1h1.5v1.5h-1.5zM211.2 390.6h1.5v1.5h-1.5zM207.1 431h1.5v1.5h-1.5zM173.4 384h1.5v1.5h-1.5zM218.5 438h1.5v1.5h-1.5zM197.9 405.7h1.5v1.5h-1.5zM201.1 427.3h1.5v1.5h-1.5zM168.2 418.1h1.5v1.5h-1.5zM197.8 410.9h1.5v1.5h-1.5zM159.4 398h1.5v1.5h-1.5zM191.8 427.6h1.5v1.5h-1.5zM159.7 420.1h1.5v1.5h-1.5zM229.6 410.3h1.5v1.5h-1.5zM203.3 420.2h1.5v1.5h-1.5zM197.1 412.6h1.5v1.5h-1.5zM177.8 420.6h1.5v1.5h-1.5zM205.6 427.2h1.5v1.5h-1.5zM216.7 427.4h1.5v1.5h-1.5zM219.2 434.8h1.5v1.5h-1.5zM187.5 426.9h1.5v1.5h-1.5zM215 417.5h1.5v1.5h-1.5zM209.4 428.4h1.5v1.5h-1.5zM173.1 395.8h1.5v1.5h-1.5zM146.5 423.7h1.5v1.5h-1.5zM175.9 409.3h1.5v1.5h-1.5zM178.1 418h1.5v1.5h-1.5zM199 414.2h1.5v1.5h-1.5zM186.8 398.9h1.5v1.5h-1.5zM184.4 413.6h1.5v1.5h-1.5zM195 404.4h1.5v1.5h-1.5zM173.5 410.7h1.5v1.5h-1.5zM193 421.6h1.5v1.5h-1.5zM191.3 425.1h1.5v1.5h-1.5zM200.6 422.2h1.5v1.5h-1.5zM200.9 430.7h1.5v1.5h-1.5zM203.6 429.6h1.5v1.5h-1.5zM152 396.9h1.5v1.5h-1.5zM220.5 413.4h1.5v1.5h-1.5zM227.1 428.4h1.5v1.5h-1.5zM205.7 409.4h1.5v1.5h-1.5zM215.1 372.9h1.5v1.5h-1.5zM210.8 423.9h1.5v1.5h-1.5zM204.2 335h1.5v1.5h-1.5zM188.2 392.5h1.5v1.5h-1.5zM194.4 426.2h1.5v1.5h-1.5zM204.5 383h1.5v1.5h-1.5zM202.5 410.3h1.5v1.5h-1.5zM181.1 390.9h1.5v1.5h-1.5zM206.7 392.7h1.5v1.5h-1.5zM218.9 429.4h1.5v1.5h-1.5zM206.4 424.3h1.5v1.5h-1.5zM221.3 420.6h1.5v1.5h-1.5zM200.9 401.4h1.5v1.5h-1.5zM219.5 435.3h1.5v1.5h-1.5zM205.3 432.2h1.5v1.5h-1.5zM205.5 395.5h1.5v1.5h-1.5zM164 415.1h1.5v1.5h-1.5zM156.9 433.3h1.5v1.5h-1.5zM214 432.1h1.5v1.5h-1.5zM197.6 423.9h1.5v1.5h-1.5zM182.3 409.1h1.5v1.5h-1.5zM217 416.7h1.5v1.5h-1.5zM182.7 406.3h1.5v1.5h-1.5zM188.9 412.7h1.5v1.5h-1.5zM203.2 408.4h1.5v1.5h-1.5zM197.7 369.9h1.5v1.5h-1.5zM181.4 420.4h1.5v1.5h-1.5zM215.2 427.8h1.5v1.5h-1.5zM199.9 411.8h1.5v1.5h-1.5zM217.7 440.2h1.5v1.5h-1.5zM218 431.9h1.5v1.5h-1.5zM193.2 399.5h1.5v1.5h-1.5zM180.4 411.9h1.5v1.5h-1.5zM192.8 388.8h1.5v1.5h-1.5zM222.7 355.6h1.5v1.5h-1.5zM177.4 351.7h1.5v1.5h-1.5zM174.6 407.4h1.5v1.5h-1.5zM172.4 422.8h1.5v1.5h-1.5zM214.1 427.8h1.5v1.5h-1.5zM184.1 396h1.5v1.5h-1.5zM179.1 397.8h1.5v1.5h-1.5zM217.1 428.2h1.5v1.5h-1.5zM219.3 410.3h1.5v1.5h-1.5zM225.2 406.7h1.5v1.5h-1.5zM167.9 422.8h1.5v1.5h-1.5zM189.2 409.2h1.5v1.5h-1.5zM179.4 372.2h1.5v1.5h-1.5zM135.8 399.1h1.5v1.5h-1.5zM191.4 416.2h1.5v1.5h-1.5zM172.8 397.3h1.5v1.5h-1.5zM186.6 398.1h1.5v1.5h-1.5zM200 393.2h1.5v1.5h-1.5zM208.2 397.3h1.5v1.5h-1.5zM213.3 439.5h1.5v1.5h-1.5zM200.5 423.2h1.5v1.5h-1.5zM217.3 421.3h1.5v1.5h-1.5zM182.5 391.5h1.5v1.5h-1.5zM224.4 420.3h1.5v1.5h-1.5zM206 432.7h1.5v1.5h-1.5zM190.8 404h1.5v1.5h-1.5zM199.6 414.7h1.5v1.5h-1.5zM216.8 432h1.5v1.5h-1.5zM197 422.2h1.5v1.5h-1.5zM213.1 406.6h1.5v1.5h-1.5zM177.9 408.3h1.5v1.5h-1.5zM181.1 417.1h1.5v1.5h-1.5zM206.8 419.1h1.5v1.5h-1.5zM188.3 373.1h1.5v1.5h-1.5zM191.4 419h1.5v1.5h-1.5zM184.7 416h1.5v1.5h-1.5zM166.9 373.9h1.5v1.5h-1.5zM172.2 395.3h1.5v1.5h-1.5zM197.1 421.9h1.5v1.5h-1.5zM197.5 427.6h1.5v1.5h-1.5zM166.3 392.6h1.5v1.5h-1.5zM152.9 419.1h1.5v1.5h-1.5zM182.2 392.6h1.5v1.5h-1.5zM208.5 395.6h1.5v1.5h-1.5zM178.3 416.8h1.5v1.5h-1.5zM204.6 429.5h1.5v1.5h-1.5zM217.7 410.7h1.5v1.5h-1.5zM166.4 408.4h1.5v1.5h-1.5zM200.6 420.2h1.5v1.5h-1.5zM190.8 418.7h1.5v1.5h-1.5zM154.1 430.8h1.5v1.5h-1.5zM188.1 398.5h1.5v1.5h-1.5zM206.1 429.2h1.5v1.5h-1.5zM158.3 397.5h1.5v1.5h-1.5zM189.5 413.8h1.5v1.5h-1.5zM208.9 388.6h1.5v1.5h-1.5zM204.3 404h1.5v1.5h-1.5zM129 446.2h1.5v1.5h-1.5zM159.6 362.4h1.5v1.5h-1.5zM218 429.3h1.5v1.5h-1.5zM195.5 427.5h1.5v1.5h-1.5zM198.1 401.5h1.5v1.5h-1.5zM180.8 418.7h1.5v1.5h-1.5zM190 427.2h1.5v1.5h-1.5zM194.1 418.4h1.5v1.5h-1.5zM193.2 409h1.5v1.5h-1.5zM190.7 386.8h1.5v1.5h-1.5zM210.1 398.9h1.5v1.5h-1.5zM169.5 422.1h1.5v1.5h-1.5zM168.5 414.9h1.5v1.5h-1.5zM188.8 417.3h1.5v1.5h-1.5zM203.9 413.2h1.5v1.5h-1.5zM209.8 436.4h1.5v1.5h-1.5zM207.6 431h1.5v1.5h-1.5zM212.1 374.2h1.5v1.5h-1.5zM231.2 418.9h1.5v1.5h-1.5zM166.2 400.9h1.5v1.5h-1.5zM222.2 372.5h1.5v1.5h-1.5zM194.1 393.4h1.5v1.5h-1.5zM183.6 419.3h1.5v1.5h-1.5zM180.7 415.6h1.5v1.5h-1.5zM218.7 423.2h1.5v1.5h-1.5zM200.1 420.6h1.5v1.5h-1.5zM169.6 401.6h1.5v1.5h-1.5zM215.6 420.1h1.5v1.5h-1.5zM213.3 436.6h1.5v1.5h-1.5zM206.3 430.5h1.5v1.5h-1.5zM196.7 420.6h1.5v1.5h-1.5zM214.5 422.9h1.5v1.5h-1.5zM217.3 419.8h1.5v1.5h-1.5zM223.3 415.7h1.5v1.5h-1.5zM214.1 404.2h1.5v1.5h-1.5zM231.3 422.1h1.5v1.5h-1.5zM226.6 439.9h1.5v1.5h-1.5zM180 405h1.5v1.5h-1.5zM187.9 416.3h1.5v1.5h-1.5zM235.3 401h1.5v1.5h-1.5zM153.2 419.7h1.5v1.5h-1.5zM219.1 419.4h1.5v1.5h-1.5zM209.8 403.7h1.5v1.5h-1.5zM218.1 433.4h1.5v1.5h-1.5zM209.7 420.3h1.5v1.5h-1.5zM214.3 423.1h1.5v1.5h-1.5zM171.8 414.5h1.5v1.5h-1.5zM221.7 395.8h1.5v1.5h-1.5zM208.5 385.7h1.5v1.5h-1.5zM171 378.2h1.5v1.5h-1.5zM223 429.1h1.5v1.5h-1.5zM200 414.7h1.5v1.5h-1.5zM199.8 422.7h1.5v1.5h-1.5zM208.6 427.2h1.5v1.5h-1.5zM199.3 420.1h1.5v1.5h-1.5zM189.6 406.5h1.5v1.5h-1.5zM173.1 412.5h1.5v1.5h-1.5zM165.5 424.7h1.5v1.5h-1.5zM187 422.5h1.5v1.5h-1.5zM200.6 393.7h1.5v1.5h-1.5zM187.2 417.4h1.5v1.5h-1.5zM168.7 414.5h1.5v1.5h-1.5zM163.2 408.6h1.5v1.5h-1.5zM200.7 411.5h1.5v1.5h-1.5zM226.3 418.2h1.5v1.5h-1.5zM188 421.7h1.5v1.5h-1.5zM199 418.2h1.5v1.5h-1.5zM204.5 415h1.5v1.5h-1.5zM212.7 415.9h1.5v1.5h-1.5zM151.5 405h1.5v1.5h-1.5zM202.7 426h1.5v1.5h-1.5zM208.6 434h1.5v1.5h-1.5zM185.7 403.1h1.5v1.5h-1.5zM181.3 417.7h1.5v1.5h-1.5zM195.6 421.4h1.5v1.5h-1.5zM181.8 408.7h1.5v1.5h-1.5zM217 438.2h1.5v1.5h-1.5zM219.6 416.5h1.5v1.5h-1.5zM220.9 397.4h1.5v1.5h-1.5zM184.1 422.5h1.5v1.5h-1.5zM170.6 409.2h1.5v1.5h-1.5zM208.5 424.3h1.5v1.5h-1.5zM178.5 419.4h1.5v1.5h-1.5zM211.5 374.2h1.5v1.5h-1.5zM219.1 431.6h1.5v1.5h-1.5zM152.2 433.3h1.5v1.5h-1.5zM223.5 406.8h1.5v1.5h-1.5zM193.6 400.6h1.5v1.5h-1.5zM155.2 407.3h1.5v1.5h-1.5zM187.5 422.6h1.5v1.5h-1.5zM223.2 413.8h1.5v1.5h-1.5zM212.7 420.8h1.5v1.5h-1.5zM175.5 421.4h1.5v1.5h-1.5zM185.8 423.6h1.5v1.5h-1.5zM219 387.7h1.5v1.5h-1.5zM169.7 381.7h1.5v1.5h-1.5zM187.9 427h1.5v1.5h-1.5zM189 397.4h1.5v1.5h-1.5zM199.6 430.1h1.5v1.5h-1.5zM181.6 413.9h1.5v1.5h-1.5zM172.9 425.8h1.5v1.5h-1.5zM185.1 415.8h1.5v1.5h-1.5zM196.9 417.8h1.5v1.5h-1.5zM207.7 412.4h1.5v1.5h-1.5zM203.1 404.8h1.5v1.5h-1.5zM192.4 396.6h1.5v1.5h-1.5zM193 415.3h1.5v1.5h-1.5zM184.1 408.5h1.5v1.5h-1.5zM206 414.7h1.5v1.5h-1.5zM198.4 425.1h1.5v1.5h-1.5zM213.9 428.4h1.5v1.5h-1.5zM232.6 420.7h1.5v1.5h-1.5zM171.4 414.1h1.5v1.5h-1.5zM202.1 431.1h1.5v1.5h-1.5zM183.5 377.1h1.5v1.5h-1.5zM167.9 425.2h1.5v1.5h-1.5zM212 434.8h1.5v1.5h-1.5zM199.9 413.3h1.5v1.5h-1.5zM194.9 423.5h1.5v1.5h-1.5zM193.2 403.3h1.5v1.5h-1.5zM223.4 423.5h1.5v1.5h-1.5zM207 401.5h1.5v1.5h-1.5zM206.9 423h1.5v1.5h-1.5zM202.3 409.8h1.5v1.5h-1.5zM187.3 409.9h1.5v1.5h-1.5zM198.8 403.5h1.5v1.5h-1.5zM224.6 432.9h1.5v1.5h-1.5zM194.2 427.4h1.5v1.5h-1.5zM175.6 399.3h1.5v1.5h-1.5zM212.7 427.7h1.5v1.5h-1.5zM186.3 425.1h1.5v1.5h-1.5zM188.9 417.8h1.5v1.5h-1.5zM183.4 418.5h1.5v1.5h-1.5zM190.6 402.7h1.5v1.5h-1.5zM180.9 403.2h1.5v1.5h-1.5zM140.2 425.7h1.5v1.5h-1.5zM202.1 413.4h1.5v1.5h-1.5zM195.8 409.7h1.5v1.5h-1.5zM163.8 423.9h1.5v1.5h-1.5zM176.6 398.5h1.5v1.5h-1.5zM175.3 381.8h1.5v1.5h-1.5zM191.1 426h1.5v1.5h-1.5zM171.7 400.2h1.5v1.5h-1.5zM161.3 433h1.5v1.5h-1.5zM174.7 395.1h1.5v1.5h-1.5zM209.2 420.4h1.5v1.5h-1.5zM220.1 433.8h1.5v1.5h-1.5zM152.3 378.5h1.5v1.5h-1.5zM183 392.8h1.5v1.5h-1.5zM188.6 405.8h1.5v1.5h-1.5zM223.6 440.9h1.5v1.5h-1.5zM221 413.5h1.5v1.5h-1.5zM225.1 417h1.5v1.5h-1.5zM179.5 417.4h1.5v1.5h-1.5zM203.6 429.3h1.5v1.5h-1.5zM176.8 413h1.5v1.5h-1.5zM197.8 428.1h1.5v1.5h-1.5zM232.5 418.1h1.5v1.5h-1.5zM216.6 439.1h1.5v1.5h-1.5zM165.3 408.2h1.5v1.5h-1.5zM177.5 421h1.5v1.5h-1.5zM193.4 399.7h1.5v1.5h-1.5zM178.7 420h1.5v1.5h-1.5zM172.3 355.4h1.5v1.5h-1.5zM183.4 403.3h1.5v1.5h-1.5zM191 383.8h1.5v1.5h-1.5zM164.5 343h1.5v1.5h-1.5zM160 353.1h1.5v1.5h-1.5zM200 398.7h1.5v1.5h-1.5zM175.1 331.7h1.5v1.5h-1.5zM176.5 399.3h1.5v1.5h-1.5zM171.8 399.2h1.5v1.5h-1.5zM179.3 366.5h1.5v1.5h-1.5zM187.9 348.5h1.5v1.5h-1.5zM185.5 342.9h1.5v1.5h-1.5zM181 399.4h1.5v1.5h-1.5zM168.7 377.9h1.5v1.5h-1.5zM184.2 330.3h1.5v1.5h-1.5zM172.8 412.5h1.5v1.5h-1.5zM180.7 397.2h1.5v1.5h-1.5zM185.5 386.6h1.5v1.5h-1.5zM190.2 414h1.5v1.5h-1.5zM174.1 339.4h1.5v1.5h-1.5zM190.7 419.7h1.5v1.5h-1.5zM185.9 335.7h1.5v1.5h-1.5zM178.7 398.2h1.5v1.5h-1.5zM190.2 342.5h1.5v1.5h-1.5zM184.1 334.5h1.5v1.5h-1.5zM167.7 398.7h1.5v1.5h-1.5zM174.1 341.6h1.5v1.5h-1.5zM175.7 364.9h1.5v1.5h-1.5zM175.7 418.9h1.5v1.5h-1.5zM187.2 362.7h1.5v1.5h-1.5zM180.3 376.1h1.5v1.5h-1.5zM190.2 352.5h1.5v1.5h-1.5zM184.3 410.3h1.5v1.5h-1.5zM190.1 336.6h1.5v1.5h-1.5zM180.8 401.3h1.5v1.5h-1.5zM172.2 355.3h1.5v1.5h-1.5zM184.3 346.2h1.5v1.5h-1.5zM180.1 377.5h1.5v1.5h-1.5zM159 336.1h1.5v1.5h-1.5zM171 352.8h1.5v1.5h-1.5zM187.5 362.4h1.5v1.5h-1.5zM172.3 399.2h1.5v1.5h-1.5zM178.8 335.3h1.5v1.5h-1.5zM182.2 385.3h1.5v1.5h-1.5zM188.2 380.2h1.5v1.5h-1.5zM186.4 413.8h1.5v1.5h-1.5zM163.2 396.7h1.5v1.5h-1.5zM182.7 346.5h1.5v1.5h-1.5zM179.4 353.4h1.5v1.5h-1.5zM162.3 353.6h1.5v1.5h-1.5zM183.1 362.6h1.5v1.5h-1.5zM175.9 388.8h1.5v1.5h-1.5zM172.9 414.7h1.5v1.5h-1.5zM171 401.4h1.5v1.5h-1.5zM193.8 333.9h1.5v1.5h-1.5zM168.1 417.8h1.5v1.5h-1.5zM172.8 341.2h1.5v1.5h-1.5zM180.5 376.2h1.5v1.5h-1.5zM179.2 337.8h1.5v1.5h-1.5zM171.7 390.7h1.5v1.5h-1.5zM172.8 419.3h1.5v1.5h-1.5zM175.1 337.8h1.5v1.5h-1.5zM188.9 394.2h1.5v1.5h-1.5zM188 400h1.5v1.5h-1.5zM176.6 343.2h1.5v1.5h-1.5zM178.5 378.1h1.5v1.5h-1.5zM171.8 409.9h1.5v1.5h-1.5zM173.6 349.4h1.5v1.5h-1.5zM198.1 421.3h1.5v1.5h-1.5zM181.2 382.2h1.5v1.5h-1.5zM186.6 421.6h1.5v1.5h-1.5zM163.6 383.8h1.5v1.5h-1.5zM182.8 405h1.5v1.5h-1.5zM183.7 404.5h1.5v1.5h-1.5zM181.1 337.7h1.5v1.5h-1.5zM171.3 406.8h1.5v1.5h-1.5zM190.3 400.5h1.5v1.5h-1.5zM179.1 335.7h1.5v1.5h-1.5zM187.4 416.4h1.5v1.5h-1.5zM186.4 411h1.5v1.5h-1.5zM185.2 409.1h1.5v1.5h-1.5zM168.9 355.6h1.5v1.5h-1.5zM165.2 421.5h1.5v1.5h-1.5zM182.3 418h1.5v1.5h-1.5zM169 342.5h1.5v1.5h-1.5zM171.6 333.1h1.5v1.5h-1.5zM171.8 336.7h1.5v1.5h-1.5zM190.9 409.6h1.5v1.5h-1.5zM153.7 386h1.5v1.5h-1.5zM179.6 355.7h1.5v1.5h-1.5zM189.2 381.5h1.5v1.5h-1.5zM182.4 407.9h1.5v1.5h-1.5zM170.7 329.6h1.5v1.5h-1.5zM173 415.9h1.5v1.5h-1.5zM178.6 357.4h1.5v1.5h-1.5zM173.8 334.5h1.5v1.5h-1.5zM170.4 408.8h1.5v1.5h-1.5zM184.7 389.3h1.5v1.5h-1.5zM193.8 364h1.5v1.5h-1.5zM179.3 355.7h1.5v1.5h-1.5zM183.5 369.6h1.5v1.5h-1.5zM176.7 344.1h1.5v1.5h-1.5zM184.2 383h1.5v1.5h-1.5zM181.6 367.4h1.5v1.5h-1.5zM200.1 353h1.5v1.5h-1.5zM173 387.5h1.5v1.5h-1.5zM191.9 418.7h1.5v1.5h-1.5zM188.6 380.7h1.5v1.5h-1.5zM168.1 371.1h1.5v1.5h-1.5zM196 334.6h1.5v1.5h-1.5zM176.9 390.8h1.5v1.5h-1.5zM183.8 348.9h1.5v1.5h-1.5zM172 340h1.5v1.5h-1.5zM177.7 356.7h1.5v1.5h-1.5zM188.6 344.1h1.5v1.5h-1.5zM176.6 422.2h1.5v1.5h-1.5zM138.5 470.8h1.5v1.5h-1.5zM140.8 456.8h1.5v1.5h-1.5zM144.2 482.6h1.5v1.5h-1.5zM144.3 460.8h1.5v1.5h-1.5zM123.9 486.8h1.5v1.5h-1.5zM149.6 447h1.5v1.5h-1.5zM145.1 448h1.5v1.5h-1.5zM127.4 465.4h1.5v1.5h-1.5zM145.8 452.1h1.5v1.5h-1.5zM136.5 478.3h1.5v1.5h-1.5zM139.6 473h1.5v1.5h-1.5zM146.4 461.8h1.5v1.5h-1.5zM148 466.5h1.5v1.5h-1.5zM111.5 442.1h1.5v1.5h-1.5zM144.4 461.2h1.5v1.5h-1.5zM140.7 467.3h1.5v1.5h-1.5zM142.8 460h1.5v1.5h-1.5zM138.8 458.7h1.5v1.5h-1.5zM137.4 485.1h1.5v1.5h-1.5zM118.7 452.1h1.5v1.5h-1.5zM150 480.3h1.5v1.5h-1.5zM119.9 465.7h1.5v1.5h-1.5zM141.4 484.8h1.5v1.5h-1.5zM148.1 451.3h1.5v1.5h-1.5zM110 450.1h1.5v1.5h-1.5zM148.9 474h1.5v1.5h-1.5zM123.7 461.8h1.5v1.5h-1.5zM125.1 464.5h1.5v1.5h-1.5zM150.9 447.4h1.5v1.5h-1.5zM146.4 483.2h1.5v1.5h-1.5zM121 451.2h1.5v1.5h-1.5zM129.5 470.4h1.5v1.5h-1.5zM135.3 469h1.5v1.5h-1.5zM144.7 471.1h1.5v1.5h-1.5zM126.3 473.3h1.5v1.5h-1.5zM136.4 434.5h1.5v1.5h-1.5zM135.1 461.5h1.5v1.5h-1.5zM149.5 473.8h1.5v1.5h-1.5zM135.7 464h1.5v1.5h-1.5zM139.7 450.2h1.5v1.5h-1.5zM128.6 481.6h1.5v1.5h-1.5zM138.6 452.2h1.5v1.5h-1.5zM128 489.9h1.5v1.5h-1.5zM150.2 443.7h1.5v1.5h-1.5zM141.7 468h1.5v1.5h-1.5zM114.9 462.1h1.5v1.5h-1.5zM135.3 467.3h1.5v1.5h-1.5zM120.3 491.3h1.5v1.5h-1.5zM139.7 473.1h1.5v1.5h-1.5zM136.7 468.6h1.5v1.5h-1.5zM147.7 449.6h1.5v1.5h-1.5zM136.3 491.4h1.5v1.5h-1.5zM146.7 459.4h1.5v1.5h-1.5zM147.5 475.4h1.5v1.5h-1.5zM139.9 449.1h1.5v1.5h-1.5zM134.8 468.4h1.5v1.5h-1.5zM132.1 457.9h1.5v1.5h-1.5zM140.4 465.9h1.5v1.5h-1.5zM147 452.8h1.5v1.5h-1.5zM134.7 450.5h1.5v1.5h-1.5zM125.8 463.4h1.5v1.5h-1.5zM146.9 450.8h1.5v1.5h-1.5zM137.7 446h1.5v1.5h-1.5zM144.5 453.1h1.5v1.5h-1.5zM143.1 464.8h1.5v1.5h-1.5zM121.2 458.4h1.5v1.5h-1.5zM144.6 475.6h1.5v1.5h-1.5zM118 484.6h1.5v1.5h-1.5zM147.1 487.3h1.5v1.5h-1.5zM133.7 472.4h1.5v1.5h-1.5zM149.4 460.8h1.5v1.5h-1.5zM148.1 452.1h1.5v1.5h-1.5zM131.5 485.4h1.5v1.5h-1.5zM141.5 463.5h1.5v1.5h-1.5zM119.1 455.2h1.5v1.5h-1.5zM149 474.7h1.5v1.5h-1.5zM142.5 451.1h1.5v1.5h-1.5zM124.3 457.4h1.5v1.5h-1.5zM112.8 472.6h1.5v1.5h-1.5zM113 458h1.5v1.5h-1.5zM138.6 459.2h1.5v1.5h-1.5zM138.1 486.4h1.5v1.5h-1.5zM131.6 483.3h1.5v1.5h-1.5zM140.1 466.5h1.5v1.5h-1.5zM140 456.5h1.5v1.5h-1.5zM149.2 458.8h1.5v1.5h-1.5zM142.4 454.8h1.5v1.5h-1.5zM145.9 476.3h1.5v1.5h-1.5zM125.2 455.1h1.5v1.5h-1.5zM143.5 447.6h1.5v1.5h-1.5zM140.5 466.8h1.5v1.5h-1.5zM106.7 449.1h1.5v1.5h-1.5zM146.6 461.1h1.5v1.5h-1.5zM135.2 466.8h1.5v1.5h-1.5zM142.9 475.3h1.5v1.5h-1.5zM132.5 444.3h1.5v1.5h-1.5zM137.4 477.7h1.5v1.5h-1.5zM150.8 476.4h1.5v1.5h-1.5zM123.8 458h1.5v1.5h-1.5zM142.8 454.5h1.5v1.5h-1.5zM141.3 459.5h1.5v1.5h-1.5zM132.2 443.1h1.5v1.5h-1.5zM138.8 451.1h1.5v1.5h-1.5zM145.7 467.3h1.5v1.5h-1.5zM149 481.8h1.5v1.5h-1.5zM142.8 456.4h1.5v1.5h-1.5zM124.8 470.5h1.5v1.5h-1.5zM138.4 447.3h1.5v1.5h-1.5zM120.5 474.9h1.5v1.5h-1.5zM144.6 461.2h1.5v1.5h-1.5zM143.9 451.4h1.5v1.5h-1.5zM138.5 445.8h1.5v1.5h-1.5zM138.3 444.5h1.5v1.5h-1.5zM106.8 460.4h1.5v1.5h-1.5zM142.2 463.1h1.5v1.5h-1.5zM136.3 454.6h1.5v1.5h-1.5zM119.5 490.5h1.5v1.5h-1.5zM132.3 464.1h1.5v1.5h-1.5zM124.1 436.9h1.5v1.5h-1.5zM126.5 482.3h1.5v1.5h-1.5zM134.6 466.6h1.5v1.5h-1.5zM141.8 454.3h1.5v1.5h-1.5zM147.1 455.1h1.5v1.5h-1.5zM138.7 460.6h1.5v1.5h-1.5zM142.4 445.4h1.5v1.5h-1.5zM140.7 466.8h1.5v1.5h-1.5zM150.4 439.8h1.5v1.5h-1.5zM141.9 479.8h1.5v1.5h-1.5zM144.3 456.2h1.5v1.5h-1.5zM126.3 459.5h1.5v1.5h-1.5zM134.1 462.1h1.5v1.5h-1.5zM146.3 420.6h1.5v1.5h-1.5zM147.4 474.4h1.5v1.5h-1.5zM147.2 463.6h1.5v1.5h-1.5zM125.2 465.3h1.5v1.5h-1.5zM133.3 464h1.5v1.5h-1.5zM146.6 465.2h1.5v1.5h-1.5zM128 487.4h1.5v1.5h-1.5zM144.1 461.5h1.5v1.5h-1.5zM139.8 480.6h1.5v1.5h-1.5zM135.1 462.2h1.5v1.5h-1.5zM148.6 463.7h1.5v1.5h-1.5zM147.5 460.3h1.5v1.5h-1.5zM121.1 466.4h1.5v1.5h-1.5zM118.3 453.6h1.5v1.5h-1.5zM148.4 480.6h1.5v1.5h-1.5zM124 454.3h1.5v1.5h-1.5zM149.1 462.4h1.5v1.5h-1.5zM133.1 433.3h1.5v1.5h-1.5zM148.2 463.8h1.5v1.5h-1.5zM139.5 467.5h1.5v1.5h-1.5zM130.2 450.4h1.5v1.5h-1.5zM139.7 473.6h1.5v1.5h-1.5zM148.4 464.5h1.5v1.5h-1.5zM142.5 469h1.5v1.5h-1.5zM145.2 473.8h1.5v1.5h-1.5zM132.2 481.7h1.5v1.5h-1.5zM142.6 456.6h1.5v1.5h-1.5zM146.9 450.4h1.5v1.5h-1.5zM119.6 455.3h1.5v1.5h-1.5zM119.4 464.9h1.5v1.5h-1.5zM144 431.1h1.5v1.5h-1.5zM146 458.3h1.5v1.5h-1.5zM144.8 444.4h1.5v1.5h-1.5zM146.3 455.1h1.5v1.5h-1.5zM143.1 448.6h1.5v1.5h-1.5zM135.1 461.4h1.5v1.5h-1.5zM148.8 456h1.5v1.5h-1.5zM133 448.8h1.5v1.5h-1.5zM144.3 463.8h1.5v1.5h-1.5zM143.5 470.2h1.5v1.5h-1.5zM143.4 452.3h1.5v1.5h-1.5zM140.9 459.1h1.5v1.5h-1.5zM145 468.7h1.5v1.5h-1.5zM128.2 456.5h1.5v1.5h-1.5zM129.3 453.3h1.5v1.5h-1.5zM145.1 455.5h1.5v1.5h-1.5zM127.7 456.9h1.5v1.5h-1.5zM147.9 475.4h1.5v1.5h-1.5zM140.4 455.1h1.5v1.5h-1.5zM135.6 428h1.5v1.5h-1.5zM128.6 464.2h1.5v1.5h-1.5zM145.1 488.1h1.5v1.5h-1.5zM123.3 459h1.5v1.5h-1.5zM147.9 455.4h1.5v1.5h-1.5zM135.8 467.4h1.5v1.5h-1.5zM148.7 468.7h1.5v1.5h-1.5zM103.2 468.1h1.5v1.5h-1.5zM116.3 485.3h1.5v1.5h-1.5zM130.8 479.1h1.5v1.5h-1.5zM144.6 453.4h1.5v1.5h-1.5zM125.8 468h1.5v1.5h-1.5zM130.4 451.6h1.5v1.5h-1.5zM132 478.2h1.5v1.5h-1.5zM144 471.1h1.5v1.5h-1.5zM135 466.7h1.5v1.5h-1.5zM140.4 447.7h1.5v1.5h-1.5zM145.3 480.1h1.5v1.5h-1.5zM137.7 467h1.5v1.5h-1.5zM137.8 463h1.5v1.5h-1.5zM134.3 449.1h1.5v1.5h-1.5zM146.8 469.7h1.5v1.5h-1.5zM150.8 433.9h1.5v1.5h-1.5zM141 451.3h1.5v1.5h-1.5zM121.9 467.7h1.5v1.5h-1.5zM142.1 468.9h1.5v1.5h-1.5zM127.1 452.7h1.5v1.5h-1.5zM143.2 460.3h1.5v1.5h-1.5zM142.9 445.4h1.5v1.5h-1.5zM139.4 469.8h1.5v1.5h-1.5zM121.2 457.4h1.5v1.5h-1.5zM138.3 452.8h1.5v1.5h-1.5zM139.2 476h1.5v1.5h-1.5zM140.3 450h1.5v1.5h-1.5zM133.8 455.6h1.5v1.5h-1.5zM114.4 481.8h1.5v1.5h-1.5zM148.1 470.6h1.5v1.5h-1.5zM140.3 470h1.5v1.5h-1.5zM141.4 475.2h1.5v1.5h-1.5zM146.6 448.9h1.5v1.5h-1.5zM142.3 449.9h1.5v1.5h-1.5zM131.7 490.8h1.5v1.5h-1.5zM151 445.7h1.5v1.5h-1.5zM132.3 444h1.5v1.5h-1.5zM139.5 446.7h1.5v1.5h-1.5zM146 457.9h1.5v1.5h-1.5zM146.8 490.9h1.5v1.5h-1.5zM138.4 464.8h1.5v1.5h-1.5zM141.5 467.3h1.5v1.5h-1.5zM150.1 476.4h1.5v1.5h-1.5zM129.4 449.4h1.5v1.5h-1.5zM142.1 473.5h1.5v1.5h-1.5zM114.3 477.1h1.5v1.5h-1.5zM140.7 436.8h1.5v1.5h-1.5zM148.8 480.5h1.5v1.5h-1.5zM144.7 449.2h1.5v1.5h-1.5zM129.7 453.9h1.5v1.5h-1.5zM134.7 474.7h1.5v1.5h-1.5zM146.6 462.8h1.5v1.5h-1.5zM147.2 467.7h1.5v1.5h-1.5zM138.3 477.5h1.5v1.5h-1.5zM150.9 450h1.5v1.5h-1.5zM108 447.3h1.5v1.5h-1.5zM138.4 483h1.5v1.5h-1.5zM126.2 473.1h1.5v1.5h-1.5zM145.7 467.4h1.5v1.5h-1.5zM129.7 458.3h1.5v1.5h-1.5zM119.2 436h1.5v1.5h-1.5zM143.4 448.7h1.5v1.5h-1.5zM150.1 489.8h1.5v1.5h-1.5zM136.3 462.3h1.5v1.5h-1.5zM137.8 466.3h1.5v1.5h-1.5zM117.8 454.7h1.5v1.5h-1.5zM125.5 467.2h1.5v1.5h-1.5zM224.1 448.8h1.5v1.5h-1.5zM224.9 448.9h1.5v1.5h-1.5zM227.6 464.8h1.5v1.5h-1.5zM227.4 458.3h1.5v1.5h-1.5zM225.6 459.3h1.5v1.5h-1.5zM227.5 447.1h1.5v1.5h-1.5zM226.3 459.6h1.5v1.5h-1.5zM228.9 449.4h1.5v1.5h-1.5zM224 458.3h1.5v1.5h-1.5zM221.9 463.2h1.5v1.5h-1.5zM223.9 457.7h1.5v1.5h-1.5zM222.5 451.1h1.5v1.5h-1.5zM227.9 457.6h1.5v1.5h-1.5zM221.5 455.3h1.5v1.5h-1.5zM220.3 451.2h1.5v1.5h-1.5zM226.9 456.3h1.5v1.5h-1.5zM227.1 457h1.5v1.5h-1.5zM224.8 448.5h1.5v1.5h-1.5zM227.3 450.2h1.5v1.5h-1.5zM226.8 448.5h1.5v1.5h-1.5zM222.1 456.4h1.5v1.5h-1.5zM221.6 458.4h1.5v1.5h-1.5zM229.9 478h1.5v1.5h-1.5zM225.9 478.7h1.5v1.5h-1.5zM225.9 479.8h1.5v1.5h-1.5zM224.4 481.4h1.5v1.5h-1.5zM226.7 484.7h1.5v1.5h-1.5zM225.7 481.6h1.5v1.5h-1.5zM224.6 480.9h1.5v1.5h-1.5zM228.3 486.1h1.5v1.5h-1.5zM224.4 474.6h1.5v1.5h-1.5zM227.7 489.8h1.5v1.5h-1.5zM225.4 477.4h1.5v1.5h-1.5zM226.9 476h1.5v1.5h-1.5zM227.5 487.5h1.5v1.5h-1.5zM225 477.6h1.5v1.5h-1.5z" fill="#111"/>
<rect x="194.5" y="445.7" width="53.5" height="47.5" fill="none" stroke="#555" stroke-width="1"/>
<rect x="304" y="298" width="197" height="197.5" fill="none" stroke="#5a5a5a" stroke-width="1.1"/>
<path d="M324 495.5v5.2M345 495.5v5.2M393 495.5v5.2M439 495.5v5.2M483 495.5v5.2M359.4 495.5v2.2M367.9 495.5v2.2M373.9 495.5v2.2M378.6 495.5v2.2M382.4 495.5v2.2M385.6 495.5v2.2M388.3 495.5v2.2M390.8 495.5v2.2M406.8 495.5v2.2M414.9 495.5v2.2M420.7 495.5v2.2M425.2 495.5v2.2M428.8 495.5v2.2M431.9 495.5v2.2M434.5 495.5v2.2M436.9 495.5v2.2M452.2 495.5v2.2M460 495.5v2.2M465.5 495.5v2.2M469.8 495.5v2.2M473.2 495.5v2.2M476.2 495.5v2.2M478.7 495.5v2.2M481 495.5v2.2M496.2 495.5v2.2M328.2 495.5v2.2M320.1 495.5v2.2M331.5 495.5v2.2M317.1 495.5v2.2M333.8 495.5v2.2M314.9 495.5v2.2M335.8 495.5v2.2M313 495.5v2.2M337.5 495.5v2.2M311.4 495.5v2.2M339.2 495.5v2.2M309.9 495.5v2.2M340.7 495.5v2.2M308.5 495.5v2.2M342.2 495.5v2.2M307.1 495.5v2.2M343.6 495.5v2.2M305.8 495.5v2.2M304.5 495.5v5.2M304 475h-5.2M304 453.7h-5.2M304 406h-5.2M304 360h-5.2M304 316h-5.2M304 439.3h-2.2M304 430.9h-2.2M304 425h-2.2M304 420.4h-2.2M304 416.6h-2.2M304 413.4h-2.2M304 410.6h-2.2M304 408.2h-2.2M304 392.2h-2.2M304 384.1h-2.2M304 378.3h-2.2M304 373.8h-2.2M304 370.2h-2.2M304 367.1h-2.2M304 364.5h-2.2M304 362.1h-2.2M304 346.8h-2.2M304 339h-2.2M304 333.5h-2.2M304 329.2h-2.2M304 325.8h-2.2M304 322.8h-2.2M304 320.3h-2.2M304 318h-2.2M304 302.8h-2.2M304 470.7h-2.2M304 479h-2.2M304 467.4h-2.2M304 482h-2.2M304 465.1h-2.2M304 484.3h-2.2M304 463.1h-2.2M304 486.1h-2.2M304 461.3h-2.2M304 487.8h-2.2M304 459.6h-2.2M304 489.3h-2.2M304 458h-2.2M304 490.8h-2.2M304 456.6h-2.2M304 492.2h-2.2M304 455.1h-2.2M304 493.5h-2.2M304 494.8h-5.2" stroke="#222" stroke-width="1" fill="none"/>
<path d="M323.5 495.5v5.2M304 475.3h-5.2" stroke="#111" stroke-width="2.2" fill="none"/>
<text x="324" y="515.2" font-size="10.3" letter-spacing="0.25" text-anchor="middle" fill="#111" stroke="#111" stroke-width="0.2">0</text>
<text x="345.8" y="515.2" font-size="10.3" letter-spacing="0.25" text-anchor="middle" fill="#111" stroke="#111" stroke-width="0.2">10<tspan dy="-3.9" dx="0.3" font-size="8.4">2</tspan></text>
<text x="393.8" y="515.2" font-size="10.3" letter-spacing="0.25" text-anchor="middle" fill="#111" stroke="#111" stroke-width="0.2">10<tspan dy="-3.9" dx="0.3" font-size="8.4">3</tspan></text>
<text x="439.8" y="515.2" font-size="10.3" letter-spacing="0.25" text-anchor="middle" fill="#111" stroke="#111" stroke-width="0.2">10<tspan dy="-3.9" dx="0.3" font-size="8.4">4</tspan></text>
<text x="483.8" y="515.2" font-size="10.3" letter-spacing="0.25" text-anchor="middle" fill="#111" stroke="#111" stroke-width="0.2">10<tspan dy="-3.9" dx="0.3" font-size="8.4">5</tspan></text>
<text x="295.6" y="478.8" font-size="10.3" letter-spacing="0.25" text-anchor="end" fill="#111" stroke="#111" stroke-width="0.2">0</text>
<text x="295.6" y="457.7" font-size="10.3" letter-spacing="0.25" text-anchor="end" fill="#111" stroke="#111" stroke-width="0.2">10<tspan dy="-3.9" dx="0.3" font-size="8.4">2</tspan></text>
<text x="295.6" y="410" font-size="10.3" letter-spacing="0.25" text-anchor="end" fill="#111" stroke="#111" stroke-width="0.2">10<tspan dy="-3.9" dx="0.3" font-size="8.4">3</tspan></text>
<text x="295.6" y="364" font-size="10.3" letter-spacing="0.25" text-anchor="end" fill="#111" stroke="#111" stroke-width="0.2">10<tspan dy="-3.9" dx="0.3" font-size="8.4">4</tspan></text>
<text x="295.6" y="320" font-size="10.3" letter-spacing="0.25" text-anchor="end" fill="#111" stroke="#111" stroke-width="0.2">10<tspan dy="-3.9" dx="0.3" font-size="8.4">5</tspan></text>
<text x="396.7" y="527.9" font-size="17.5" font-weight="bold" text-anchor="middle" fill="#000">CD98</text>
<text x="274.4" y="380.4" font-size="17.8" font-weight="bold" text-anchor="middle" fill="#000" transform="rotate(-90 274.4 380.4)">sIgM</text>
<text x="405.6" y="293" font-size="17.6" font-weight="bold" text-anchor="middle" fill="#000">post sort</text>
<clipPath id="cB2"><rect x="304" y="298" width="197" height="196.3"/></clipPath><g clip-path="url(#cB2)">
<path d="M446.8 470.9L446.2 471.2L445.8 471.1L444.8 469.8L444.2 468.2L443.8 465.8L443.8 464.2L444.2 462.4L444.8 461.2L445.2 460.6L445.8 460.2L446.3 460.2L447.2 461L448.1 462.8L448.4 464.2L448.2 467L447.2 470L446.8 470.9Z" fill="none" stroke="#111" stroke-width="1.00" stroke-linejoin="round"/>
<path d="M447.2 475.8L446.2 475.8L445.8 475.5L444.4 473.8L443.1 470.2L442.4 466.2L442.6 463.2L443.6 459.2L444.8 457.5L445.8 456.8L446.2 456.7L447.2 457.1L448.4 458.8L449.6 461.8L450 464.2L449.9 467.2L448.8 473.4L448.2 474.8L447.2 475.8Z" fill="none" stroke="#111" stroke-width="1.00" stroke-linejoin="round"/>
<path d="M447.8 478.3L446.8 478.6L445.8 478.5L444.8 477.8L443.8 476.3L442.2 472.1L441.2 466.2L441.3 463.2L442.6 457.8L443.2 456.4L444.2 455.1L445.2 454.3L446.2 454L447.2 454.2L447.8 454.5L448.5 455.2L449.2 456.2L450.7 460.2L451.4 463.8L451.3 467.2L450.2 474.8L449.2 476.9L447.8 478.3Z" fill="none" stroke="#111" stroke-width="1.00" stroke-linejoin="round"/>
<path d="M447.2 480.8L445.8 481.1L444.8 480.8L443.8 480L443 478.8L442.2 476.8L441.1 472.8L440 465.8L440.1 463.8L441 458.8L441.8 455.8L442.8 454L443.8 452.7L444.9 451.8L446.2 451.4L447.2 451.5L448.2 452L449.2 453L450 454.2L452.1 459.8L452.6 461.8L452.8 463.8L452.7 466.2L452.2 472.8L451.6 475.8L451 477.2L450 478.8L448.8 480L447.2 480.8Z" fill="none" stroke="#111" stroke-width="1.00" stroke-linejoin="round"/>
<path d="M447.2 483.3L445.8 483.3L444.2 482.8L442.9 481.8L442 480.2L441.2 478.2L440.6 476.2L439.5 470.2L438.9 465.8L438.9 463.8L439.9 457.8L440.8 454.2L442.2 451.7L443.4 450.2L444.8 449.2L446.2 448.8L447.2 449L448.8 449.8L449.9 450.8L451 452.2L453.8 459.8L454.2 461.2L454.4 463.2L454.2 468.2L454.3 472.8L453.6 475.8L452.6 478.2L451.6 479.8L448.8 482.5L447.2 483.3Z" fill="none" stroke="#111" stroke-width="1.00" stroke-linejoin="round"/>
<path d="M448.8 485.8L447.2 486.1L446.2 486L445.2 485.6L442.8 483.8L441.5 482.2L440.3 479.8L439.5 477.2L438.4 470.2L437.9 465.8L438 463.2L438.9 456.8L439.4 454.8L440.2 452.6L441.7 449.8L442.8 448.4L444.8 447L445.8 446.6L446.8 446.4L448.2 446.9L450.2 448.4L451.8 450.2L452.9 452.2L455.2 458.2L456.1 461.2L456.3 463.2L456.4 468.2L457.4 472.8L457.3 474.8L456.9 476.2L455.2 478.7L453.6 481.8L452.2 483.2L449.8 485.2L448.8 485.8Z" fill="none" stroke="#111" stroke-width="1.00" stroke-linejoin="round"/>
<path d="M448.2 488.4L447.2 488.6L446.2 488.5L444.8 487.7L441.8 485L440.3 482.8L439.1 479.8L438.4 477.2L437.4 470.2L437 465.2L437 463.2L438.1 456.2L438.9 453.2L440.2 449.9L441.2 448.1L442.8 446.4L445.2 444.5L446.8 444.2L448.8 444.7L450.2 445.8L452.8 448.8L454.6 451.8L457.2 458.2L458.8 464.8L461.4 470.2L461.8 472.8L461.7 475.8L462.1 477.8L461.9 479.2L461.2 480.3L460.8 480.6L458.8 480.8L457.8 481.2L456.1 483.8L455.2 484.8L448.2 488.4ZM448.8 492.3L447.1 492.2L446.5 491.8L446.6 491.2L447.8 490.9L448.8 491.2L449.2 491.8L448.8 492.3Z" fill="none" stroke="#2a2a2a" stroke-width="0.85" stroke-linejoin="round"/>
<path d="M450.8 493.3L448.8 493.6L446.8 493.6L444.2 492.8L443.2 492.1L443 491.2L443.2 489.8L443 488.8L440.1 484.8L438.9 482.2L438 479.8L437.5 477.2L436.6 470.2L436.2 465.2L436.2 463.2L437.1 457.2L438.5 451.8L439.4 449.2L440.8 446.7L443.8 442.7L444.3 442.2L445.2 441.9L446.2 441.9L448.8 442.7L450.9 443.8L452.4 445.2L455.8 450.2L460.2 461L463.1 466.2L464.3 471.8L465.6 475.2L466 476.8L465.9 478.2L464.7 481.2L464.6 483.8L464.2 484.8L463.8 485.2L462.8 485.7L460.2 486.1L457.8 487.6L456.8 487.9L453.8 488L452.7 488.2L452 488.8L451.7 489.2L451.8 489.8L452.2 490.5L453.7 491.8L453.6 492.2L450.8 493.3ZM461.8 492.8L456.8 492.6L455.5 492.2L455.3 491.8L456.2 491.3L457.2 491.2L459.2 491.3L461.8 491L462.8 491.3L463.2 491.8L463.1 492.2L461.8 492.8Z" fill="none" stroke="#2a2a2a" stroke-width="0.85" stroke-linejoin="round"/>
<path d="M450.2 494.3L447.2 494.4L444.8 494.1L442 493.2L441.2 492.8L440.9 492.2L440.9 489.2L438.4 484.2L437 480.2L435.6 470.8L435.2 464.8L435.2 462.8L436 457.8L438 449.8L439.4 446.2L442 441.2L443.6 439.8L445.2 439.1L446.2 439.2L447.8 439.6L450.2 440.8L451.8 441.7L454 443.8L456.5 447.2L458 450.2L459.6 452.8L460.3 455.2L462 458.8L466.1 465.8L466.4 466.8L467.1 470.8L468.4 473.8L468.9 475.2L469.8 480.2L469.7 482.2L469.2 484L468.3 485.8L466.5 488.2L466.1 489.2L466.6 490.2L467.8 491.8L467.8 492.2L467.3 492.8L465.8 493.4L462.2 494L453.8 493.9L450.2 494.3Z" fill="none" stroke="#2a2a2a" stroke-width="0.85" stroke-linejoin="round"/>
<path d="M463.2 494.8L453.8 494.8L448.8 495.1L446.2 495.1L442.8 494.5L440.8 494L439.5 493.2L438.9 492.2L438.9 489.2L436.2 482.2L435.6 479.8L434.4 471.2L434 465.2L434.1 462.8L434.7 457.8L435.8 453.8L436.5 449.8L439.2 442.2L439.9 440.8L441.2 439.2L442.8 437.9L444.2 437.1L445.8 436.9L447.2 436.9L449.8 437.3L451.1 437.8L452.2 438.7L454.2 441L457.3 443.2L458.2 444.2L459.2 445.9L460.3 448.8L462.7 451.2L463.4 452.2L464 453.8L465.2 458.5L466.3 461.2L469 465.2L470.5 468.8L472.2 471.2L472.8 472.4L473 473.8L473.1 477.2L473.7 480.2L473.7 481.8L472.8 484.2L470.9 487.8L470.6 488.8L470.9 489.8L472.3 491.8L472.3 492.2L471.9 492.8L471.2 493.2L469.8 493.8L467.2 494.3L463.2 494.8Z" fill="none" stroke="#2a2a2a" stroke-width="0.85" stroke-linejoin="round"/>
<path d="M463.8 495.8L453.2 495.8L448.2 496.1L445.2 495.9L441.8 495.5L439.2 494.9L437.2 493.9L436.3 492.8L436.2 491.8L436.5 489.8L436.4 488.8L433.8 480.8L433.4 476.2L432.7 471.8L432.2 464.8L432.9 457.2L433.6 454.2L434.1 449.2L436 443.2L437 440.8L438.3 438.8L441.9 435.2L443.8 432.9L444.8 432.3L446.8 432.2L452.2 433.1L453.8 433.6L455.2 434.5L456.2 435.2L457.8 437.8L458.4 438.2L460.8 439.2L461.8 440L464.1 445.2L464.5 447.8L464.9 448.8L467 451.8L469 455.2L470.4 459.2L473.5 464.8L475.2 470.6L477.5 476.8L477.7 477.8L477.5 480.2L477.8 483.2L477.1 487.8L477.1 489.2L477.5 491.8L477.1 492.8L475.7 493.8L471.8 494.9L467.8 495.5L463.8 495.8Z" fill="none" stroke="#2a2a2a" stroke-width="0.85" stroke-linejoin="round"/>
</g>
<path d="M341.2 465.2h1.5v1.5h-1.5zM348.8 465.2h1.5v1.5h-1.5zM349.8 459.9h1.5v1.5h-1.5zM355.9 486.2h1.5v1.5h-1.5zM365.9 474.8h1.5v1.5h-1.5zM378.8 481.8h1.5v1.5h-1.5zM394.2 442.2h1.5v1.5h-1.5zM402.9 430.9h1.5v1.5h-1.5zM392.9 472.9h1.5v1.5h-1.5zM398.2 459.2h1.5v1.5h-1.5zM399.8 460.2h1.5v1.5h-1.5zM401.8 456.2h1.5v1.5h-1.5zM405.2 467.2h1.5v1.5h-1.5zM407.9 447.9h1.5v1.5h-1.5zM409.2 459.2h1.5v1.5h-1.5zM411.2 461.2h1.5v1.5h-1.5zM412.2 459.2h1.5v1.5h-1.5zM415.9 452.2h1.5v1.5h-1.5zM421.8 432.2h1.5v1.5h-1.5zM421.8 449.2h1.5v1.5h-1.5zM422.9 446.8h1.5v1.5h-1.5zM421.8 455.2h1.5v1.5h-1.5zM421.8 459.2h1.5v1.5h-1.5zM421.8 463.8h1.5v1.5h-1.5zM424.2 469.2h1.5v1.5h-1.5zM426.8 456.8h1.5v1.5h-1.5zM429.9 431.8h1.5v1.5h-1.5zM429.2 439.2h1.5v1.5h-1.5zM450.2 426.8h1.5v1.5h-1.5zM453.8 424.2h1.5v1.5h-1.5zM460.2 429.2h1.5v1.5h-1.5zM467.9 430.2h1.5v1.5h-1.5zM417.2 461.2h1.5v1.5h-1.5zM408.2 451.2h1.5v1.5h-1.5zM443.2 492.8h1.5v1.5h-1.5zM451.2 492.8h1.5v1.5h-1.5zM455.2 493.2h1.5v1.5h-1.5zM469.2 492.2h1.5v1.5h-1.5zM473.2 492.8h1.5v1.5h-1.5zM461.2 492.8h1.5v1.5h-1.5z" fill="#111"/>
<rect x="441" y="445.7" width="56.5" height="47.5" fill="none" stroke="#555" stroke-width="1"/>
<path d="M58.1 587.4V785H250.3" fill="none" stroke="#333" stroke-width="1.1"/>
<path d="M250.3 587.4V785" fill="none" stroke="#b8b8b8" stroke-width="1"/>
<path d="M58.1 587.4H250.3" fill="none" stroke="#666" stroke-width="1"/>
<path d="M79 785v5.2M98.6 785v5.2M144.5 785v5.2M189 785v5.2M232.5 785v5.2M112.4 785v2.2M120.5 785v2.2M126.2 785v2.2M130.7 785v2.2M134.3 785v2.2M137.4 785v2.2M140.1 785v2.2M142.4 785v2.2M157.9 785v2.2M165.7 785v2.2M171.3 785v2.2M175.6 785v2.2M179.1 785v2.2M182.1 785v2.2M184.7 785v2.2M187 785v2.2M202.1 785v2.2M209.8 785v2.2M215.2 785v2.2M219.4 785v2.2M222.8 785v2.2M225.8 785v2.2M228.3 785v2.2M230.5 785v2.2M245.6 785v2.2M82.9 785v2.2M75.4 785v2.2M86 785v2.2M72.5 785v2.2M88.2 785v2.2M70.5 785v2.2M90 785v2.2M68.8 785v2.2M91.6 785v2.2M67.2 785v2.2M93.2 785v2.2M65.8 785v2.2M94.6 785v2.2M64.5 785v2.2M96 785v2.2M63.2 785v2.2M97.3 785v2.2M62 785v2.2M60.8 785v5.2M58.1 784.3h-5.2M58.1 774.9h-2.2M58.1 765.5h-2.2M58.1 756.2h-2.2M58.1 746.8h-5.2M58.1 737.4h-2.2M58.1 728h-2.2M58.1 718.6h-2.2M58.1 709.3h-5.2M58.1 699.9h-2.2M58.1 690.5h-2.2M58.1 681.1h-2.2M58.1 671.7h-5.2M58.1 662.4h-2.2M58.1 653h-2.2M58.1 643.6h-2.2M58.1 634.2h-5.2M58.1 624.8h-2.2M58.1 615.5h-2.2M58.1 606.1h-2.2M58.1 596.7h-5.2" stroke="#222" stroke-width="1" fill="none"/>
<path d="M78.5 785v5.2" stroke="#111" stroke-width="2.2" fill="none"/>
<text x="79" y="804.5" font-size="10.3" letter-spacing="0.25" text-anchor="middle" fill="#111" stroke="#111" stroke-width="0.2">0</text>
<text x="99.4" y="804.5" font-size="10.3" letter-spacing="0.25" text-anchor="middle" fill="#111" stroke="#111" stroke-width="0.2">10<tspan dy="-3.9" dx="0.3" font-size="8.4">2</tspan></text>
<text x="145.3" y="804.5" font-size="10.3" letter-spacing="0.25" text-anchor="middle" fill="#111" stroke="#111" stroke-width="0.2">10<tspan dy="-3.9" dx="0.3" font-size="8.4">3</tspan></text>
<text x="189.8" y="804.5" font-size="10.3" letter-spacing="0.25" text-anchor="middle" fill="#111" stroke="#111" stroke-width="0.2">10<tspan dy="-3.9" dx="0.3" font-size="8.4">4</tspan></text>
<text x="233.3" y="804.5" font-size="10.3" letter-spacing="0.25" text-anchor="middle" fill="#111" stroke="#111" stroke-width="0.2">10<tspan dy="-3.9" dx="0.3" font-size="8.4">5</tspan></text>
<text x="49.6" y="788" font-size="10.3" letter-spacing="0.25" text-anchor="end" fill="#111" stroke="#111" stroke-width="0.2">0</text>
<text x="49.6" y="750.5" font-size="10.3" letter-spacing="0.25" text-anchor="end" fill="#111" stroke="#111" stroke-width="0.2">20</text>
<text x="49.6" y="713" font-size="10.3" letter-spacing="0.25" text-anchor="end" fill="#111" stroke="#111" stroke-width="0.2">40</text>
<text x="49.6" y="675.4" font-size="10.3" letter-spacing="0.25" text-anchor="end" fill="#111" stroke="#111" stroke-width="0.2">60</text>
<text x="49.6" y="637.9" font-size="10.3" letter-spacing="0.25" text-anchor="end" fill="#111" stroke="#111" stroke-width="0.2">80</text>
<text x="49.6" y="600.4" font-size="10.3" letter-spacing="0.25" text-anchor="end" fill="#111" stroke="#111" stroke-width="0.2">100</text>
<text x="161.5" y="821.7" font-size="17.5" font-weight="bold" text-anchor="middle" fill="#000">sIgM</text>
<text x="151.2" y="582.4" font-size="17.8" font-weight="bold" text-anchor="middle" fill="#000">medium</text>
<path d="M59.5 784L61.2 778.5L64.2 773.8L70.4 760L75 756.2L77.3 750.8L79.6 727.7L83.5 704.6L85.8 709.2L90.4 670.8L92.7 686.2L95.3 660L96.3 651.3L98.4 653.5L102.6 623.8L104.7 642.9L107.3 616.4L108.5 625L111.1 598.5L114.2 630.2L116.3 621.7L118.5 640.8L120.6 653.5L122.7 678.9L124.8 700L127.3 733.8L129 742.9L131.9 766L135.4 774.6L139.6 780L143.9 782L150 783L165 783.6L200 784L200 784.6L59.5 784.6Z" fill="#b9b9b9" stroke="none"/>
<path d="M59.5 784L61.2 778.5L64.2 773.8L70.4 760L75 756.2L77.3 750.8L79.6 727.7L83.5 704.6L85.8 709.2L90.4 670.8L92.7 686.2L95.3 660L96.3 651.3L98.4 653.5L102.6 623.8L104.7 642.9L107.3 616.4L108.5 625L111.1 598.5L114.2 630.2L116.3 621.7L118.5 640.8L120.6 653.5L122.7 678.9L124.8 700L127.3 733.8L129 742.9L131.9 766L135.4 774.6L139.6 780L143.9 782L150 783L165 783.6L200 784" fill="none" stroke="#000" stroke-width="2" stroke-linejoin="round"/>
<path d="M59.6 609L60 700L61.2 766.2L67.3 752.3L70.4 753.8L73.5 744.6L75.8 752.3L82.7 741.5L85.8 746.2L91.2 713.8L94.2 720L97.3 704.6L98.8 709.2L101.2 690.8L103.5 697.7L107.9 664L108.9 670.4L112.5 637.6L114.2 642.9L116.3 651.3L118.5 598.5L119.5 617.5L121 640.8L122.3 635.5L123.8 646L127 655.6L129 671.4L131.2 674.6L133.5 692L136.4 726L139.6 753.5L143.9 770.4L149.1 778.9L154.4 781.4L158.7 783L170 782.8L185 783.5L215 784L250 784.2" fill="none" stroke="#000" stroke-width="2" stroke-linejoin="round"/>
<path d="M59.6 609.4V785" stroke="#000" stroke-width="2"/>
<path d="M145.5 732H249.6M145.5 727.5v9M249.6 727.5v9" stroke="#111" stroke-width="1.3" fill="none"/>
<text x="200.1" y="728.6" font-size="17" font-weight="bold" text-anchor="middle" fill="#000">2.6</text>
<path d="M306.3 588.6V786.3H497.7" fill="none" stroke="#333" stroke-width="1.1"/>
<path d="M497.7 588.6V786.3" fill="none" stroke="#b8b8b8" stroke-width="1"/>
<path d="M306.3 588.6H497.7" fill="none" stroke="#666" stroke-width="1"/>
<path d="M326.4 786.3v5.2M347 786.3v5.2M393.3 786.3v5.2M437.3 786.3v5.2M480.2 786.3v5.2M360.9 786.3v2.2M369.1 786.3v2.2M374.9 786.3v2.2M379.4 786.3v2.2M383 786.3v2.2M386.1 786.3v2.2M388.8 786.3v2.2M391.2 786.3v2.2M406.5 786.3v2.2M414.3 786.3v2.2M419.8 786.3v2.2M424.1 786.3v2.2M427.5 786.3v2.2M430.5 786.3v2.2M433 786.3v2.2M435.3 786.3v2.2M450.2 786.3v2.2M457.8 786.3v2.2M463.1 786.3v2.2M467.3 786.3v2.2M470.7 786.3v2.2M473.6 786.3v2.2M476 786.3v2.2M478.2 786.3v2.2M493.1 786.3v2.2M330.5 786.3v2.2M322.6 786.3v2.2M333.7 786.3v2.2M319.6 786.3v2.2M336 786.3v2.2M317.5 786.3v2.2M338 786.3v2.2M315.7 786.3v2.2M339.7 786.3v2.2M314 786.3v2.2M341.3 786.3v2.2M312.6 786.3v2.2M342.8 786.3v2.2M311.2 786.3v2.2M344.2 786.3v2.2M309.8 786.3v2.2M345.6 786.3v2.2M308.5 786.3v2.2M307.2 786.3v5.2M306.3 786h-5.2M306.3 776.6h-2.2M306.3 767.2h-2.2M306.3 757.8h-2.2M306.3 748.4h-5.2M306.3 739h-2.2M306.3 729.6h-2.2M306.3 720.2h-2.2M306.3 710.8h-5.2M306.3 701.4h-2.2M306.3 692h-2.2M306.3 682.6h-2.2M306.3 673.2h-5.2M306.3 663.8h-2.2M306.3 654.4h-2.2M306.3 645h-2.2M306.3 635.6h-5.2M306.3 626.2h-2.2M306.3 616.8h-2.2M306.3 607.4h-2.2M306.3 598h-5.2" stroke="#222" stroke-width="1" fill="none"/>
<path d="M325.9 786.3v5.2" stroke="#111" stroke-width="2.2" fill="none"/>
<text x="326.4" y="805.8" font-size="10.3" letter-spacing="0.25" text-anchor="middle" fill="#111" stroke="#111" stroke-width="0.2">0</text>
<text x="347.8" y="805.8" font-size="10.3" letter-spacing="0.25" text-anchor="middle" fill="#111" stroke="#111" stroke-width="0.2">10<tspan dy="-3.9" dx="0.3" font-size="8.4">2</tspan></text>
<text x="394.1" y="805.8" font-size="10.3" letter-spacing="0.25" text-anchor="middle" fill="#111" stroke="#111" stroke-width="0.2">10<tspan dy="-3.9" dx="0.3" font-size="8.4">3</tspan></text>
<text x="438.1" y="805.8" font-size="10.3" letter-spacing="0.25" text-anchor="middle" fill="#111" stroke="#111" stroke-width="0.2">10<tspan dy="-3.9" dx="0.3" font-size="8.4">4</tspan></text>
<text x="481" y="805.8" font-size="10.3" letter-spacing="0.25" text-anchor="middle" fill="#111" stroke="#111" stroke-width="0.2">10<tspan dy="-3.9" dx="0.3" font-size="8.4">5</tspan></text>
<text x="297.8" y="789.7" font-size="10.3" letter-spacing="0.25" text-anchor="end" fill="#111" stroke="#111" stroke-width="0.2">0</text>
<text x="297.8" y="752.1" font-size="10.3" letter-spacing="0.25" text-anchor="end" fill="#111" stroke="#111" stroke-width="0.2">20</text>
<text x="297.8" y="714.5" font-size="10.3" letter-spacing="0.25" text-anchor="end" fill="#111" stroke="#111" stroke-width="0.2">40</text>
<text x="297.8" y="676.9" font-size="10.3" letter-spacing="0.25" text-anchor="end" fill="#111" stroke="#111" stroke-width="0.2">60</text>
<text x="297.8" y="639.3" font-size="10.3" letter-spacing="0.25" text-anchor="end" fill="#111" stroke="#111" stroke-width="0.2">80</text>
<text x="297.8" y="601.7" font-size="10.3" letter-spacing="0.25" text-anchor="end" fill="#111" stroke="#111" stroke-width="0.2">100</text>
<text x="401.1" y="822.2" font-size="17.5" font-weight="bold" text-anchor="middle" fill="#000">sIgM</text>
<text x="401.8" y="582.5" font-size="18" font-weight="bold" text-anchor="middle" fill="#000">Anti-murine IL-7</text>
<path d="M308.3 785L308.8 771L311.2 762.5L314.3 752L316.9 737L318.6 743.5L321.7 713.8L324.9 701L327 675.2L329.1 666.7L331.7 645.6L334 666.7L337.6 625.5L340.3 639.2L342.9 618L344.4 625.5L346.5 600L348.2 622.3L350.7 600L353.5 634L356 601L357.3 608.5L358.8 600L360.4 607.5L362.4 600L364 611.7L365.1 606.5L366.2 622.3L368.3 643.5L370.4 680L372.5 722.3L374.6 749.8L377.8 768.9L382 778.4L387.3 782.6L393.7 780.5L400 784L420 785L420 785.8L308.3 785.8Z" fill="#b9b9b9" stroke="none"/>
<path d="M308.3 785L308.8 771L311.2 762.5L314.3 752L316.9 737L318.6 743.5L321.7 713.8L324.9 701L327 675.2L329.1 666.7L331.7 645.6L334 666.7L337.6 625.5L340.3 639.2L342.9 618L344.4 625.5L346.5 600L348.2 622.3L350.7 600L353.5 634L356 601L357.3 608.5L358.8 600L360.4 607.5L362.4 600L364 611.7L365.1 606.5L366.2 622.3L368.3 643.5L370.4 680L372.5 722.3L374.6 749.8L377.8 768.9L382 778.4L387.3 782.6L393.7 780.5L400 784L420 785" fill="none" stroke="#000" stroke-width="1" stroke-linejoin="round"/>
<path d="M307.9 590L308.1 700L308.8 771L311.2 760.4L313.7 749.8L315.8 754L318.6 759.3L321.7 744.5L324.9 752L328.1 756.2L332.3 745.6L335.5 739.2L338.2 727.6L340.3 730.8L342.3 723.4L345.4 728.7L350.3 697.5L352.4 702L355.6 668.9L357.3 675.2L361.9 635L363.4 647.7L366.2 607.5L367.9 635L370.4 609.6L373.6 622.3L375.3 600L377.2 652L378.9 636L381 664.6L382.5 690L385.2 722.3L388.4 747.7L391.5 764.6L394.7 775.2L398.8 779.4L407 780.8L417.7 780.8L421.7 784.6L434 785.2L437 784.3L440 785.2L470 785.6L497.5 785.6" fill="none" stroke="#000" stroke-width="2" stroke-linejoin="round"/>
<path d="M307.9 589.5V786" stroke="#000" stroke-width="2"/>
<path d="M393.5 733.7H497.7M393.5 729.2v9M497.7 729.2v9" stroke="#111" stroke-width="1.3" fill="none"/>
<text x="442.5" y="727.5" font-size="17" font-weight="bold" text-anchor="middle" fill="#000">2.9</text>
<path d="M60.2 893.8V1091.3H257.5" fill="none" stroke="#333" stroke-width="1.1"/>
<path d="M257.5 893.8V1091.3" fill="none" stroke="#b8b8b8" stroke-width="1"/>
<path d="M60.2 893.8H257.5" fill="none" stroke="#666" stroke-width="1"/>
<path d="M80.2 1091.3v5.2M101.3 1091.3v5.2M150 1091.3v5.2M195.5 1091.3v5.2M239.2 1091.3v5.2M116 1091.3v2.2M124.5 1091.3v2.2M130.6 1091.3v2.2M135.3 1091.3v2.2M139.2 1091.3v2.2M142.5 1091.3v2.2M145.3 1091.3v2.2M147.8 1091.3v2.2M163.7 1091.3v2.2M171.7 1091.3v2.2M177.4 1091.3v2.2M181.8 1091.3v2.2M185.4 1091.3v2.2M188.5 1091.3v2.2M191.1 1091.3v2.2M193.4 1091.3v2.2M208.7 1091.3v2.2M216.4 1091.3v2.2M221.8 1091.3v2.2M226 1091.3v2.2M229.5 1091.3v2.2M232.4 1091.3v2.2M235 1091.3v2.2M237.2 1091.3v2.2M252.4 1091.3v2.2M84.4 1091.3v2.2M76.3 1091.3v2.2M87.7 1091.3v2.2M73.2 1091.3v2.2M90.1 1091.3v2.2M71 1091.3v2.2M92 1091.3v2.2M69.2 1091.3v2.2M93.8 1091.3v2.2M67.6 1091.3v2.2M95.4 1091.3v2.2M66 1091.3v2.2M97 1091.3v2.2M64.6 1091.3v2.2M98.5 1091.3v2.2M63.2 1091.3v2.2M99.9 1091.3v2.2M61.9 1091.3v2.2M60.6 1091.3v5.2M60.2 1091h-5.2M60.2 1081.6h-2.2M60.2 1072.2h-2.2M60.2 1062.8h-2.2M60.2 1053.4h-5.2M60.2 1044h-2.2M60.2 1034.6h-2.2M60.2 1025.2h-2.2M60.2 1015.8h-5.2M60.2 1006.4h-2.2M60.2 997h-2.2M60.2 987.6h-2.2M60.2 978.2h-5.2M60.2 968.8h-2.2M60.2 959.4h-2.2M60.2 950h-2.2M60.2 940.6h-5.2M60.2 931.2h-2.2M60.2 921.8h-2.2M60.2 912.4h-2.2M60.2 903h-5.2" stroke="#222" stroke-width="1" fill="none"/>
<path d="M79.7 1091.3v5.2" stroke="#111" stroke-width="2.2" fill="none"/>
<text x="80.2" y="1110.8" font-size="10.3" letter-spacing="0.25" text-anchor="middle" fill="#111" stroke="#111" stroke-width="0.2">0</text>
<text x="102.1" y="1110.8" font-size="10.3" letter-spacing="0.25" text-anchor="middle" fill="#111" stroke="#111" stroke-width="0.2">10<tspan dy="-3.9" dx="0.3" font-size="8.4">2</tspan></text>
<text x="150.8" y="1110.8" font-size="10.3" letter-spacing="0.25" text-anchor="middle" fill="#111" stroke="#111" stroke-width="0.2">10<tspan dy="-3.9" dx="0.3" font-size="8.4">3</tspan></text>
<text x="196.3" y="1110.8" font-size="10.3" letter-spacing="0.25" text-anchor="middle" fill="#111" stroke="#111" stroke-width="0.2">10<tspan dy="-3.9" dx="0.3" font-size="8.4">4</tspan></text>
<text x="240" y="1110.8" font-size="10.3" letter-spacing="0.25" text-anchor="middle" fill="#111" stroke="#111" stroke-width="0.2">10<tspan dy="-3.9" dx="0.3" font-size="8.4">5</tspan></text>
<text x="51.7" y="1094.7" font-size="10.3" letter-spacing="0.25" text-anchor="end" fill="#111" stroke="#111" stroke-width="0.2">0</text>
<text x="51.7" y="1057.1" font-size="10.3" letter-spacing="0.25" text-anchor="end" fill="#111" stroke="#111" stroke-width="0.2">20</text>
<text x="51.7" y="1019.5" font-size="10.3" letter-spacing="0.25" text-anchor="end" fill="#111" stroke="#111" stroke-width="0.2">40</text>
<text x="51.7" y="981.9" font-size="10.3" letter-spacing="0.25" text-anchor="end" fill="#111" stroke="#111" stroke-width="0.2">60</text>
<text x="51.7" y="944.3" font-size="10.3" letter-spacing="0.25" text-anchor="end" fill="#111" stroke="#111" stroke-width="0.2">80</text>
<text x="51.7" y="906.7" font-size="10.3" letter-spacing="0.25" text-anchor="end" fill="#111" stroke="#111" stroke-width="0.2">100</text>
<text x="161.9" y="1125.8" font-size="17.5" font-weight="bold" text-anchor="middle" fill="#000">CD127</text>
<text x="157" y="889.3" font-size="17.6" font-weight="bold" text-anchor="middle" fill="#000">medium</text>
<path d="M61.8 895L62 1000L62.2 1010L63.3 985.8L65 976.3L66.4 977.3L68.1 960.4L70.7 989L72.8 973L76 947.7L79.1 962.5L81.9 932.9L83.8 942.4L85 941.3L86.5 950.9L89.1 928.2L91.4 954L94 947.7L96.5 929L99.7 942.4L103 905L105.6 937.1L108.1 942.4L110.9 918L113 943.5L114.5 977.3L117.2 977.3L118.3 984.7L120 985.8L121.4 990L123.6 1011L125.7 1042.9L127.8 1059.8L131 1071.4L135.2 1080L139.4 1085.2L144.7 1089.4L150 1090.7L160 1091L160 1091L61.8 1091Z" fill="#b9b9b9" stroke="none"/>
<path d="M61.8 895L62 1000L62.2 1010L63.3 985.8L65 976.3L66.4 977.3L68.1 960.4L70.7 989L72.8 973L76 947.7L79.1 962.5L81.9 932.9L83.8 942.4L85 941.3L86.5 950.9L89.1 928.2L91.4 954L94 947.7L96.5 929L99.7 942.4L103 905L105.6 937.1L108.1 942.4L110.9 918L113 943.5L114.5 977.3L117.2 977.3L118.3 984.7L120 985.8L121.4 990L123.6 1011L125.7 1042.9L127.8 1059.8L131 1071.4L135.2 1080L139.4 1085.2L144.7 1089.4L150 1090.7L160 1091" fill="none" stroke="#000" stroke-width="2" stroke-linejoin="round"/>
<path d="M62.2 1087.3L65.4 1086.3L69.6 1084.1L73.8 1086.9L78 1085.6L82.3 1086.9L87.6 1085.2L95 1086.9L101.3 1083L107.7 1082L114 1076.7L118.3 1079.9L122.5 1071.4L125.7 1075.7L129.9 1068.3L132 1063L134.1 1063L137.3 1053.5L140.5 1045L143.7 1034.4L145.8 1032.3L147.9 1023.8L150 1017.5L152.5 1010L156.2 990L160 965L161.7 975L165 932.5L167.5 938.7L170 913.7L171.7 921L173.7 910L175 917.5L176.5 905L178 911L179.5 912.5L183.7 946.2L185.5 938.7L188 958.7L189.5 955L192.5 970L195 956.2L197.5 975L198.7 971L202.5 990L203.7 1012.5L206.2 1015L208.7 1040L212.5 1065L216.2 1078.7L221.2 1087.5L228.7 1090L240 1090.6L257.3 1090.6" fill="none" stroke="#000" stroke-width="2" stroke-linejoin="round"/>
<path d="M61.7 894.5V1091" stroke="#000" stroke-width="2"/>
<path d="M133.7 1038.7H257.5M133.7 1034.2v9M257.5 1034.2v9" stroke="#111" stroke-width="1.3" fill="none"/>
<text x="195" y="1035" font-size="17" font-weight="bold" text-anchor="middle" fill="#000">90</text>
<path d="M301.7 895.2V1092.5H499.8" fill="none" stroke="#333" stroke-width="1.1"/>
<path d="M499.8 895.2V1092.5" fill="none" stroke="#b8b8b8" stroke-width="1"/>
<path d="M301.7 895.2H499.8" fill="none" stroke="#666" stroke-width="1"/>
<path d="M321.7 1092.5v5.2M343.5 1092.5v5.2M391.2 1092.5v5.2M436.5 1092.5v5.2M481 1092.5v5.2M357.9 1092.5v2.2M366.3 1092.5v2.2M372.2 1092.5v2.2M376.8 1092.5v2.2M380.6 1092.5v2.2M383.8 1092.5v2.2M386.6 1092.5v2.2M389 1092.5v2.2M404.8 1092.5v2.2M412.8 1092.5v2.2M418.5 1092.5v2.2M422.9 1092.5v2.2M426.5 1092.5v2.2M429.5 1092.5v2.2M432.1 1092.5v2.2M434.4 1092.5v2.2M449.9 1092.5v2.2M457.7 1092.5v2.2M463.3 1092.5v2.2M467.6 1092.5v2.2M471.1 1092.5v2.2M474.1 1092.5v2.2M476.7 1092.5v2.2M479 1092.5v2.2M494.4 1092.5v2.2M326.1 1092.5v2.2M317.6 1092.5v2.2M329.4 1092.5v2.2M314.5 1092.5v2.2M331.9 1092.5v2.2M312.2 1092.5v2.2M333.9 1092.5v2.2M310.3 1092.5v2.2M335.8 1092.5v2.2M308.6 1092.5v2.2M337.4 1092.5v2.2M307.1 1092.5v2.2M339 1092.5v2.2M305.6 1092.5v2.2M340.6 1092.5v2.2M304.1 1092.5v2.2M342.1 1092.5v2.2M302.8 1092.5v2.2M301.4 1092.5v5.2M301.7 1092.2h-5.2M301.7 1082.8h-2.2M301.7 1073.4h-2.2M301.7 1064h-2.2M301.7 1054.6h-5.2M301.7 1045.2h-2.2M301.7 1035.8h-2.2M301.7 1026.4h-2.2M301.7 1017h-5.2M301.7 1007.6h-2.2M301.7 998.2h-2.2M301.7 988.9h-2.2M301.7 979.5h-5.2M301.7 970.1h-2.2M301.7 960.7h-2.2M301.7 951.3h-2.2M301.7 941.9h-5.2M301.7 932.5h-2.2M301.7 923.1h-2.2M301.7 913.7h-2.2M301.7 904.3h-5.2" stroke="#222" stroke-width="1" fill="none"/>
<path d="M321.2 1092.5v5.2" stroke="#111" stroke-width="2.2" fill="none"/>
<text x="321.7" y="1112" font-size="10.3" letter-spacing="0.25" text-anchor="middle" fill="#111" stroke="#111" stroke-width="0.2">0</text>
<text x="344.3" y="1112" font-size="10.3" letter-spacing="0.25" text-anchor="middle" fill="#111" stroke="#111" stroke-width="0.2">10<tspan dy="-3.9" dx="0.3" font-size="8.4">2</tspan></text>
<text x="392" y="1112" font-size="10.3" letter-spacing="0.25" text-anchor="middle" fill="#111" stroke="#111" stroke-width="0.2">10<tspan dy="-3.9" dx="0.3" font-size="8.4">3</tspan></text>
<text x="437.3" y="1112" font-size="10.3" letter-spacing="0.25" text-anchor="middle" fill="#111" stroke="#111" stroke-width="0.2">10<tspan dy="-3.9" dx="0.3" font-size="8.4">4</tspan></text>
<text x="481.8" y="1112" font-size="10.3" letter-spacing="0.25" text-anchor="middle" fill="#111" stroke="#111" stroke-width="0.2">10<tspan dy="-3.9" dx="0.3" font-size="8.4">5</tspan></text>
<text x="293.2" y="1095.9" font-size="10.3" letter-spacing="0.25" text-anchor="end" fill="#111" stroke="#111" stroke-width="0.2">0</text>
<text x="293.2" y="1058.3" font-size="10.3" letter-spacing="0.25" text-anchor="end" fill="#111" stroke="#111" stroke-width="0.2">20</text>
<text x="293.2" y="1020.7" font-size="10.3" letter-spacing="0.25" text-anchor="end" fill="#111" stroke="#111" stroke-width="0.2">40</text>
<text x="293.2" y="983.2" font-size="10.3" letter-spacing="0.25" text-anchor="end" fill="#111" stroke="#111" stroke-width="0.2">60</text>
<text x="293.2" y="945.6" font-size="10.3" letter-spacing="0.25" text-anchor="end" fill="#111" stroke="#111" stroke-width="0.2">80</text>
<text x="293.2" y="908" font-size="10.3" letter-spacing="0.25" text-anchor="end" fill="#111" stroke="#111" stroke-width="0.2">100</text>
<text x="391.2" y="1127.3" font-size="17.5" font-weight="bold" text-anchor="middle" fill="#000">CD127</text>
<text x="397.6" y="890.7" font-size="18" font-weight="bold" text-anchor="middle" fill="#000">Anti-murine IL-7</text>
<path d="M303.7 896L303.9 960L304.3 973L306.5 954L308 959L310 941.3L312.2 918L314.3 928.7L316.4 924.4L318.5 930.8L321.3 947.7L322.8 941.3L324.3 948.7L327 921.2L329.1 921.2L331.2 944.5L333.8 923.4L335 929.7L337 920.2L339.7 907L342.5 927.6L343.5 936L345 929.7L347.1 941.3L349.2 955L351.3 956L354.5 971L356.6 989L358.1 985.8L358.8 990L360.9 1011.2L364 1036.5L367.2 1057.7L370.4 1074.6L373.6 1084.1L377.8 1089.4L383.1 1091.5L395 1092L395 1092.2L303.7 1092.2Z" fill="#b9b9b9" stroke="none"/>
<path d="M303.7 896L303.9 960L304.3 973L306.5 954L308 959L310 941.3L312.2 918L314.3 928.7L316.4 924.4L318.5 930.8L321.3 947.7L322.8 941.3L324.3 948.7L327 921.2L329.1 921.2L331.2 944.5L333.8 923.4L335 929.7L337 920.2L339.7 907L342.5 927.6L343.5 936L345 929.7L347.1 941.3L349.2 955L351.3 956L354.5 971L356.6 989L358.1 985.8L358.8 990L360.9 1011.2L364 1036.5L367.2 1057.7L370.4 1074.6L373.6 1084.1L377.8 1089.4L383.1 1091.5L395 1092" fill="none" stroke="#000" stroke-width="2" stroke-linejoin="round"/>
<path d="M303.7 1000L303.9 1070L304.5 1083L306.9 1086.9L311.2 1087.7L317.5 1086.9L321.7 1087.3L328 1086.3L333.4 1085.2L337.6 1087.3L341.8 1088.4L345 1086.3L348.2 1079.9L351.3 1078.8L355.6 1081L358.8 1074.6L360.9 1072.5L365.1 1071.4L368.3 1068.3L370.4 1062L373.6 1051.4L376.7 1049.2L378.8 1036.5L382 1034.4L384.1 1026L385.4 1010L388 1003.9L393.5 968.9L395.6 974.2L398.8 933.9L402.9 923L405.6 932.5L408.3 919L411 907L413.7 911L415.5 917.7L417.2 912.3L419 928.5L421.7 960.8L424.4 987.7L426.3 1001L427.9 999.8L429.8 1017L433.8 1041L437.9 1047.9L441.9 1054.6L444.6 1068L448.7 1077.5L454 1087L459.4 1091.4L470 1091.8L499.6 1091.8" fill="none" stroke="#000" stroke-width="2" stroke-linejoin="round"/>
<path d="M303.7 896V1092" stroke="#000" stroke-width="2"/>
<path d="M375.7 1040.3H498.5M375.7 1035.8v9M498.5 1035.8v9" stroke="#111" stroke-width="1.3" fill="none"/>
<text x="432" y="1037" font-size="17" font-weight="bold" text-anchor="middle" fill="#000">85</text>
<text x="445" y="1034" font-size="7" fill="#888">:</text>
</svg>
</body></html>
